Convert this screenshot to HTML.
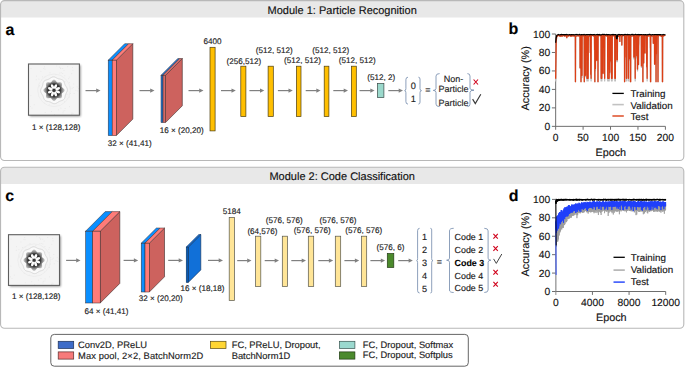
<!DOCTYPE html>
<html><head><meta charset="utf-8"><style>
html,body{margin:0;padding:0;background:#fff;}
body{width:685px;height:367px;overflow:hidden;}
svg{display:block;font-family:"Liberation Sans", sans-serif;text-rendering:geometricPrecision;}
</style></head><body>
<svg width="685" height="367" viewBox="0 0 685 367">
<defs><filter id="soft" x="-20%" y="-20%" width="140%" height="140%"><feGaussianBlur stdDeviation="0.4"/></filter><filter id="shadow" x="-10%" y="-10%" width="120%" height="120%"><feGaussianBlur stdDeviation="0.9"/></filter>
<radialGradient id="fga"><stop offset="0" stop-color="#2a2a2a"/><stop offset="0.55" stop-color="#2e2e2e"/><stop offset="0.63" stop-color="#454545"/><stop offset="0.72" stop-color="#747474"/><stop offset="0.86" stop-color="#a2a2a2"/><stop offset="1" stop-color="#cdcdcd"/></radialGradient>
<radialGradient id="fgc"><stop offset="0" stop-color="#2a2a2a"/><stop offset="0.55" stop-color="#2e2e2e"/><stop offset="0.63" stop-color="#454545"/><stop offset="0.72" stop-color="#747474"/><stop offset="0.86" stop-color="#a2a2a2"/><stop offset="1" stop-color="#cdcdcd"/></radialGradient>
</defs>
<path d="M0.55 4.6 Q0.55 0.6 4.55 0.6 L679.8 0.6 Q683.8 0.6 683.8 4.6 L683.8 17.400000000000002 L0.55 17.400000000000002 Z" fill="#e8e8e8"/>
<rect x="0.55" y="0.6" width="683.25" height="159.9" rx="4" ry="4" fill="none" stroke="#b8b8b8" stroke-width="1.1"/>
<text x="342.2" y="13.6" font-size="11" text-anchor="middle" font-weight="normal" fill="#111" stroke="#111" stroke-width="0.14" >Module 1: Particle Recognition</text>
<path d="M0.55 171.2 Q0.55 167.2 4.55 167.2 L679.8 167.2 Q683.8 167.2 683.8 171.2 L683.8 184.0 L0.55 184.0 Z" fill="#e8e8e8"/>
<rect x="0.55" y="167.2" width="683.25" height="161.10000000000002" rx="4" ry="4" fill="none" stroke="#b8b8b8" stroke-width="1.1"/>
<text x="342.2" y="180.4" font-size="11" text-anchor="middle" font-weight="normal" fill="#111" stroke="#111" stroke-width="0.14" >Module 2: Code Classification</text>
<text x="5.6" y="34.6" font-size="16" text-anchor="start" font-weight="bold" fill="#000" stroke="#000" stroke-width="0.1" >a</text>
<rect x="29.7" y="65.2" width="50.900000000000006" height="51.2" fill="#000" opacity="0.45" filter="url(#shadow)"/>
<rect x="28.5" y="64.0" width="50.900000000000006" height="51.2" fill="#f4f4f4"/>
<rect x="41.1" y="91.8" width="0.8" height="0.8" fill="#e4e4e4"/>
<rect x="47.6" y="94.7" width="0.8" height="0.8" fill="#e4e4e4"/>
<rect x="60.1" y="68.2" width="0.8" height="0.8" fill="#e4e4e4"/>
<rect x="30.1" y="106.2" width="0.8" height="0.8" fill="#e4e4e4"/>
<rect x="42.2" y="76.5" width="0.8" height="0.8" fill="#e4e4e4"/>
<rect x="78.2" y="88.1" width="0.8" height="0.8" fill="#e4e4e4"/>
<rect x="70.4" y="88.4" width="0.8" height="0.8" fill="#e4e4e4"/>
<rect x="60.8" y="72.4" width="0.8" height="0.8" fill="#e4e4e4"/>
<rect x="60.5" y="107.7" width="0.8" height="0.8" fill="#e4e4e4"/>
<rect x="55.1" y="101.5" width="0.8" height="0.8" fill="#e4e4e4"/>
<rect x="62.3" y="68.2" width="0.8" height="0.8" fill="#e4e4e4"/>
<rect x="66.6" y="94.1" width="0.8" height="0.8" fill="#e4e4e4"/>
<rect x="44.2" y="66.5" width="0.8" height="0.8" fill="#e4e4e4"/>
<rect x="71.8" y="88.3" width="0.8" height="0.8" fill="#e4e4e4"/>
<rect x="64.7" y="108.2" width="0.8" height="0.8" fill="#e4e4e4"/>
<rect x="64.4" y="110.3" width="0.8" height="0.8" fill="#e4e4e4"/>
<rect x="48.8" y="104.4" width="0.8" height="0.8" fill="#e4e4e4"/>
<rect x="51.2" y="111.0" width="0.8" height="0.8" fill="#e4e4e4"/>
<rect x="72.5" y="69.8" width="0.8" height="0.8" fill="#e4e4e4"/>
<rect x="36.1" y="75.7" width="0.8" height="0.8" fill="#e4e4e4"/>
<rect x="76.7" y="86.5" width="0.8" height="0.8" fill="#e4e4e4"/>
<rect x="60.1" y="79.8" width="0.8" height="0.8" fill="#e4e4e4"/>
<rect x="54.3" y="84.0" width="0.8" height="0.8" fill="#e4e4e4"/>
<rect x="46.7" y="93.8" width="0.8" height="0.8" fill="#e4e4e4"/>
<rect x="58.1" y="109.5" width="0.8" height="0.8" fill="#e4e4e4"/>
<rect x="62.8" y="110.7" width="0.8" height="0.8" fill="#e4e4e4"/>
<rect x="71.4" y="113.8" width="0.8" height="0.8" fill="#e4e4e4"/>
<rect x="62.3" y="73.0" width="0.8" height="0.8" fill="#e4e4e4"/>
<rect x="71.6" y="112.5" width="0.8" height="0.8" fill="#e4e4e4"/>
<rect x="73.7" y="93.0" width="0.8" height="0.8" fill="#e4e4e4"/>
<rect x="64.4" y="75.4" width="0.8" height="0.8" fill="#e4e4e4"/>
<rect x="70.2" y="93.2" width="0.8" height="0.8" fill="#e4e4e4"/>
<rect x="43.4" y="68.1" width="0.8" height="0.8" fill="#e4e4e4"/>
<rect x="71.3" y="113.7" width="0.8" height="0.8" fill="#e4e4e4"/>
<rect x="33.8" y="104.4" width="0.8" height="0.8" fill="#e4e4e4"/>
<rect x="49.6" y="72.4" width="0.8" height="0.8" fill="#e4e4e4"/>
<rect x="43.9" y="102.8" width="0.8" height="0.8" fill="#e4e4e4"/>
<rect x="72.2" y="67.2" width="0.8" height="0.8" fill="#e4e4e4"/>
<rect x="59.6" y="67.2" width="0.8" height="0.8" fill="#e4e4e4"/>
<rect x="64.6" y="81.3" width="0.8" height="0.8" fill="#e4e4e4"/>
<rect x="72.6" y="113.2" width="0.8" height="0.8" fill="#e4e4e4"/>
<rect x="54.2" y="114.1" width="0.8" height="0.8" fill="#e4e4e4"/>
<rect x="44.6" y="68.8" width="0.8" height="0.8" fill="#e4e4e4"/>
<rect x="58.8" y="66.5" width="0.8" height="0.8" fill="#e4e4e4"/>
<rect x="39.2" y="85.1" width="0.8" height="0.8" fill="#e4e4e4"/>
<rect x="59.4" y="72.7" width="0.8" height="0.8" fill="#e4e4e4"/>
<rect x="31.6" y="107.7" width="0.8" height="0.8" fill="#e4e4e4"/>
<rect x="44.8" y="112.2" width="0.8" height="0.8" fill="#e4e4e4"/>
<rect x="73.3" y="83.6" width="0.8" height="0.8" fill="#e4e4e4"/>
<rect x="52.0" y="90.6" width="0.8" height="0.8" fill="#e4e4e4"/>
<rect x="61.0" y="94.3" width="0.8" height="0.8" fill="#e4e4e4"/>
<rect x="56.8" y="95.5" width="0.8" height="0.8" fill="#e4e4e4"/>
<rect x="75.5" y="89.9" width="0.8" height="0.8" fill="#e4e4e4"/>
<rect x="50.6" y="100.4" width="0.8" height="0.8" fill="#e4e4e4"/>
<rect x="41.1" y="79.8" width="0.8" height="0.8" fill="#e4e4e4"/>
<rect x="77.3" y="90.6" width="0.8" height="0.8" fill="#e4e4e4"/>
<rect x="56.3" y="65.6" width="0.8" height="0.8" fill="#e4e4e4"/>
<rect x="49.8" y="93.5" width="0.8" height="0.8" fill="#e4e4e4"/>
<rect x="30.5" y="95.3" width="0.8" height="0.8" fill="#e4e4e4"/>
<rect x="60.4" y="68.0" width="0.8" height="0.8" fill="#e4e4e4"/>
<rect x="60.2" y="87.9" width="0.8" height="0.8" fill="#e4e4e4"/>
<rect x="62.7" y="82.3" width="0.8" height="0.8" fill="#e4e4e4"/>
<rect x="64.1" y="101.3" width="0.8" height="0.8" fill="#e4e4e4"/>
<rect x="30.6" y="68.0" width="0.8" height="0.8" fill="#e4e4e4"/>
<rect x="62.6" y="112.4" width="0.8" height="0.8" fill="#e4e4e4"/>
<rect x="41.8" y="87.5" width="0.8" height="0.8" fill="#e4e4e4"/>
<rect x="58.5" y="80.7" width="0.8" height="0.8" fill="#e4e4e4"/>
<rect x="47.3" y="80.4" width="0.8" height="0.8" fill="#e4e4e4"/>
<rect x="47.6" y="94.3" width="0.8" height="0.8" fill="#e4e4e4"/>
<rect x="44.2" y="83.6" width="0.8" height="0.8" fill="#e4e4e4"/>
<rect x="67.3" y="66.3" width="0.8" height="0.8" fill="#e4e4e4"/>
<rect x="57.3" y="101.2" width="0.8" height="0.8" fill="#e4e4e4"/>
<rect x="44.7" y="75.9" width="0.8" height="0.8" fill="#e4e4e4"/>
<rect x="68.8" y="76.7" width="0.8" height="0.8" fill="#e4e4e4"/>
<rect x="38.7" y="86.4" width="0.8" height="0.8" fill="#e4e4e4"/>
<rect x="63.6" y="70.0" width="0.8" height="0.8" fill="#e4e4e4"/>
<rect x="45.2" y="81.4" width="0.8" height="0.8" fill="#e4e4e4"/>
<rect x="70.3" y="86.6" width="0.8" height="0.8" fill="#e4e4e4"/>
<rect x="71.3" y="73.3" width="0.8" height="0.8" fill="#e4e4e4"/>
<rect x="46.0" y="97.0" width="0.8" height="0.8" fill="#e4e4e4"/>
<rect x="72.8" y="87.2" width="0.8" height="0.8" fill="#e4e4e4"/>
<rect x="40.5" y="70.9" width="0.8" height="0.8" fill="#e4e4e4"/>
<rect x="55.4" y="74.4" width="0.8" height="0.8" fill="#e4e4e4"/>
<rect x="69.0" y="106.3" width="0.8" height="0.8" fill="#e4e4e4"/>
<rect x="38.5" y="78.7" width="0.8" height="0.8" fill="#e4e4e4"/>
<rect x="69.0" y="96.6" width="0.8" height="0.8" fill="#e4e4e4"/>
<rect x="68.9" y="82.0" width="0.8" height="0.8" fill="#e4e4e4"/>
<rect x="35.8" y="79.4" width="0.8" height="0.8" fill="#e4e4e4"/>
<rect x="68.3" y="78.3" width="0.8" height="0.8" fill="#e4e4e4"/>
<rect x="46.4" y="85.5" width="0.8" height="0.8" fill="#e4e4e4"/>
<rect x="28.5" y="64.0" width="50.900000000000006" height="51.2" fill="none" stroke="#5e5e5e" stroke-width="1.1"/>
<g filter="url(#soft)">
<circle cx="54" cy="90.3" r="16.3" fill="none" stroke="#ebebeb" stroke-width="0.8"/>
<polygon points="67.41,90.30 67.31,90.82 67.14,91.33 66.93,91.83 66.69,92.31 66.44,92.77 66.19,93.23 65.96,93.67 65.76,94.12 65.59,94.58 65.45,95.04 65.34,95.53 65.24,96.03 65.15,96.54 65.04,97.06 64.90,97.59 64.73,98.09 64.50,98.58 64.22,99.03 63.88,99.43 63.48,99.78 63.04,100.08 62.56,100.33 62.06,100.53 61.55,100.70 61.05,100.85 60.55,100.99 60.07,101.14 59.61,101.32 59.17,101.52 58.74,101.75 58.32,102.01 57.90,102.30 57.47,102.60 57.02,102.89 56.56,103.16 56.07,103.40 55.57,103.58 55.05,103.69 54.53,103.74 54.00,103.71 53.48,103.61 52.97,103.44 52.47,103.23 51.99,102.99 51.53,102.74 51.07,102.49 50.63,102.26 50.18,102.06 49.72,101.89 49.26,101.75 48.77,101.64 48.27,101.54 47.76,101.45 47.24,101.34 46.71,101.20 46.21,101.03 45.72,100.80 45.27,100.52 44.87,100.18 44.52,99.78 44.22,99.34 43.97,98.86 43.77,98.36 43.60,97.85 43.45,97.35 43.31,96.85 43.16,96.37 42.98,95.91 42.78,95.47 42.55,95.04 42.29,94.62 42.00,94.20 41.70,93.77 41.41,93.32 41.14,92.86 40.90,92.37 40.72,91.87 40.61,91.35 40.56,90.83 40.59,90.30 40.69,89.78 40.86,89.27 41.07,88.77 41.31,88.29 41.56,87.83 41.81,87.37 42.04,86.93 42.24,86.48 42.41,86.02 42.55,85.56 42.66,85.07 42.76,84.57 42.85,84.06 42.96,83.54 43.10,83.01 43.27,82.51 43.50,82.02 43.78,81.57 44.12,81.17 44.52,80.82 44.96,80.52 45.44,80.27 45.94,80.07 46.45,79.90 46.95,79.75 47.45,79.61 47.93,79.46 48.39,79.28 48.83,79.08 49.26,78.85 49.68,78.59 50.10,78.30 50.53,78.00 50.98,77.71 51.44,77.44 51.93,77.20 52.43,77.02 52.95,76.91 53.47,76.86 54.00,76.89 54.52,76.99 55.03,77.16 55.53,77.37 56.01,77.61 56.47,77.86 56.93,78.11 57.37,78.34 57.82,78.54 58.28,78.71 58.74,78.85 59.23,78.96 59.73,79.06 60.24,79.15 60.76,79.26 61.29,79.40 61.79,79.57 62.28,79.80 62.73,80.08 63.13,80.42 63.48,80.82 63.78,81.26 64.03,81.74 64.23,82.24 64.40,82.75 64.55,83.25 64.69,83.75 64.84,84.23 65.02,84.69 65.22,85.13 65.45,85.56 65.71,85.98 66.00,86.40 66.30,86.83 66.59,87.28 66.86,87.74 67.10,88.23 67.28,88.73 67.39,89.25 67.44,89.77 67.41,90.30" fill="#fafafa" stroke="#d6d6d6" stroke-width="1.0"/>
<polygon points="64.70,90.30 64.64,90.72 64.46,91.12 64.18,91.50 63.82,91.85 63.42,92.17 63.00,92.46 62.62,92.73 62.28,92.99 62.03,93.26 61.85,93.55 61.77,93.88 61.76,94.25 61.81,94.67 61.90,95.14 61.98,95.63 62.04,96.14 62.05,96.64 61.98,97.11 61.82,97.53 61.57,97.87 61.23,98.12 60.81,98.28 60.34,98.35 59.84,98.34 59.33,98.28 58.84,98.20 58.37,98.11 57.95,98.06 57.58,98.07 57.25,98.15 56.96,98.33 56.69,98.58 56.43,98.92 56.16,99.30 55.87,99.72 55.55,100.12 55.20,100.48 54.82,100.76 54.42,100.94 54.00,101.00 53.58,100.94 53.18,100.76 52.80,100.48 52.45,100.12 52.13,99.72 51.84,99.30 51.57,98.92 51.31,98.58 51.04,98.33 50.75,98.15 50.42,98.07 50.05,98.06 49.63,98.11 49.16,98.20 48.67,98.28 48.16,98.34 47.66,98.35 47.19,98.28 46.77,98.12 46.43,97.87 46.18,97.53 46.02,97.11 45.95,96.64 45.96,96.14 46.02,95.63 46.10,95.14 46.19,94.67 46.24,94.25 46.23,93.88 46.15,93.55 45.97,93.26 45.72,92.99 45.38,92.73 45.00,92.46 44.58,92.17 44.18,91.85 43.82,91.50 43.54,91.12 43.36,90.72 43.30,90.30 43.36,89.88 43.54,89.48 43.82,89.10 44.18,88.75 44.58,88.43 45.00,88.14 45.38,87.87 45.72,87.61 45.97,87.34 46.15,87.05 46.23,86.72 46.24,86.35 46.19,85.93 46.10,85.46 46.02,84.97 45.96,84.46 45.95,83.96 46.02,83.49 46.18,83.07 46.43,82.73 46.77,82.48 47.19,82.32 47.66,82.25 48.16,82.26 48.67,82.32 49.16,82.40 49.63,82.49 50.05,82.54 50.42,82.53 50.75,82.45 51.04,82.27 51.31,82.02 51.57,81.68 51.84,81.30 52.13,80.88 52.45,80.48 52.80,80.12 53.18,79.84 53.58,79.66 54.00,79.60 54.42,79.66 54.82,79.84 55.20,80.12 55.55,80.48 55.87,80.88 56.16,81.30 56.43,81.68 56.69,82.02 56.96,82.27 57.25,82.45 57.58,82.53 57.95,82.54 58.37,82.49 58.84,82.40 59.33,82.32 59.84,82.26 60.34,82.25 60.81,82.32 61.23,82.48 61.57,82.73 61.82,83.07 61.98,83.49 62.05,83.96 62.04,84.46 61.98,84.97 61.90,85.46 61.81,85.93 61.76,86.35 61.77,86.72 61.85,87.05 62.03,87.34 62.28,87.61 62.62,87.87 63.00,88.14 63.42,88.43 63.82,88.75 64.18,89.10 64.46,89.48 64.64,89.88 64.70,90.30" fill="url(#fga)"/>
</g>
<ellipse cx="54" cy="86.3" rx="1.35" ry="2.5" fill="#fdfdfd" transform="rotate(22.5 54 90.3)"/>
<ellipse cx="54" cy="86.3" rx="1.35" ry="2.5" fill="#fdfdfd" transform="rotate(67.5 54 90.3)"/>
<ellipse cx="54" cy="86.3" rx="1.35" ry="2.5" fill="#fdfdfd" transform="rotate(112.5 54 90.3)"/>
<ellipse cx="54" cy="86.3" rx="1.35" ry="2.5" fill="#fdfdfd" transform="rotate(157.5 54 90.3)"/>
<ellipse cx="54" cy="86.3" rx="1.35" ry="2.5" fill="#fdfdfd" transform="rotate(202.5 54 90.3)"/>
<ellipse cx="54" cy="86.3" rx="1.35" ry="2.5" fill="#fdfdfd" transform="rotate(247.5 54 90.3)"/>
<ellipse cx="54" cy="86.3" rx="1.35" ry="2.5" fill="#fdfdfd" transform="rotate(292.5 54 90.3)"/>
<ellipse cx="54" cy="86.3" rx="1.35" ry="2.5" fill="#fdfdfd" transform="rotate(337.5 54 90.3)"/>
<circle cx="54" cy="90.3" r="1.1" fill="#3a3a3a"/>
<text x="56.2" y="130.0" font-size="8.1" text-anchor="middle" font-weight="normal" fill="#222" stroke="#222" stroke-width="0.14" >1 × (128,128)</text>
<line x1="85.5" y1="90.6" x2="96.7" y2="90.6" stroke="#808080" stroke-width="1.2"/>
<path d="M96.2 88.5 L100.5 90.6 L96.2 92.69999999999999 Z" fill="#808080"/>
<path d="M116.3 60.2 L132.8 43.7 L132.8 119.1 L116.3 135.6 Z" fill="#cd625e" stroke="#3a2a2a" stroke-width="0.6" stroke-linejoin="round"/>
<path d="M108.2 60.2 L124.7 43.7 L128.7 43.7 L112.2 60.2 Z" fill="#0a8fff" stroke="#3a2a2a" stroke-width="0.5" stroke-linejoin="round"/>
<path d="M112.2 60.2 L128.7 43.7 L132.8 43.7 L116.3 60.2 Z" fill="#ff7b78" stroke="#3a2a2a" stroke-width="0.5" stroke-linejoin="round"/>
<rect x="108.2" y="60.2" width="4.0" height="75.39999999999999" fill="#0a8fff" stroke="#3a2a2a" stroke-width="0.5"/>
<rect x="112.2" y="60.2" width="4.099999999999994" height="75.39999999999999" fill="#ff7b78" stroke="#3a2a2a" stroke-width="0.5"/>
<text x="107.8" y="146.2" font-size="8.1" text-anchor="start" font-weight="normal" fill="#222" stroke="#222" stroke-width="0.14" >32 × (41,41)</text>
<line x1="139.5" y1="90.6" x2="150.7" y2="90.6" stroke="#808080" stroke-width="1.2"/>
<path d="M150.2 88.5 L154.5 90.6 L150.2 92.69999999999999 Z" fill="#808080"/>
<path d="M165.5 75.3 L182.3 58.5 L182.3 105.8 L165.5 122.6 Z" fill="#cd625e" stroke="#3a2a2a" stroke-width="0.6" stroke-linejoin="round"/>
<path d="M161 75.3 L177.8 58.5 L179.8 58.5 L163.0 75.3 Z" fill="#1e78d8" stroke="#3a2a2a" stroke-width="0.5" stroke-linejoin="round"/>
<path d="M163.0 75.3 L179.8 58.5 L182.3 58.5 L165.5 75.3 Z" fill="#e07070" stroke="#3a2a2a" stroke-width="0.5" stroke-linejoin="round"/>
<rect x="161" y="75.3" width="2.0" height="47.3" fill="#1e78d8" stroke="#3a2a2a" stroke-width="0.5"/>
<rect x="163.0" y="75.3" width="2.5" height="47.3" fill="#d46a66" stroke="#3a2a2a" stroke-width="0.5"/>
<text x="159.8" y="132.8" font-size="8.1" text-anchor="start" font-weight="normal" fill="#222" stroke="#222" stroke-width="0.14" >16 × (20,20)</text>
<line x1="188.5" y1="90.6" x2="199.7" y2="90.6" stroke="#808080" stroke-width="1.2"/>
<path d="M199.2 88.5 L203.5 90.6 L199.2 92.69999999999999 Z" fill="#808080"/>
<rect x="210" y="47.3" width="5.099999999999994" height="83.60000000000001" fill="#ffbf00" stroke="#4a3c10" stroke-width="0.7"/>
<text x="212.6" y="44.3" font-size="8.1" text-anchor="middle" font-weight="normal" fill="#222" stroke="#222" stroke-width="0.14" >6400</text>
<line x1="221" y1="90.6" x2="232.0" y2="90.6" stroke="#808080" stroke-width="1.2"/>
<path d="M231.5 88.5 L235.8 90.6 L231.5 92.69999999999999 Z" fill="#808080"/>
<rect x="240.8" y="66.2" width="5.099999999999994" height="50.3" fill="#ffbf00" stroke="#4a3c10" stroke-width="0.7"/>
<line x1="249.4" y1="90.6" x2="260.5" y2="90.6" stroke="#808080" stroke-width="1.2"/>
<path d="M260.0 88.5 L264.3 90.6 L260.0 92.69999999999999 Z" fill="#808080"/>
<rect x="268.1" y="66.2" width="5.199999999999989" height="50.3" fill="#ffbf00" stroke="#4a3c10" stroke-width="0.7"/>
<line x1="277.9" y1="90.6" x2="289.0" y2="90.6" stroke="#808080" stroke-width="1.2"/>
<path d="M288.5 88.5 L292.8 90.6 L288.5 92.69999999999999 Z" fill="#808080"/>
<rect x="296.4" y="66.2" width="4.600000000000023" height="50.3" fill="#ffbf00" stroke="#4a3c10" stroke-width="0.7"/>
<line x1="305.7" y1="90.6" x2="316.8" y2="90.6" stroke="#808080" stroke-width="1.2"/>
<path d="M316.3 88.5 L320.6 90.6 L316.3 92.69999999999999 Z" fill="#808080"/>
<rect x="324.2" y="66.2" width="4.699999999999989" height="50.3" fill="#ffbf00" stroke="#4a3c10" stroke-width="0.7"/>
<line x1="333.3" y1="90.6" x2="344.2" y2="90.6" stroke="#808080" stroke-width="1.2"/>
<path d="M343.7 88.5 L348 90.6 L343.7 92.69999999999999 Z" fill="#808080"/>
<rect x="351.4" y="66.2" width="4.900000000000034" height="50.3" fill="#ffbf00" stroke="#4a3c10" stroke-width="0.7"/>
<text x="226.6" y="63.5" font-size="8.1" text-anchor="start" font-weight="normal" fill="#222" stroke="#222" stroke-width="0.14" >(256,512)</text>
<text x="255.8" y="53.1" font-size="8.1" text-anchor="start" font-weight="normal" fill="#222" stroke="#222" stroke-width="0.14" >(512, 512)</text>
<text x="284.1" y="63.3" font-size="8.1" text-anchor="start" font-weight="normal" fill="#222" stroke="#222" stroke-width="0.14" >(512, 512)</text>
<text x="312.2" y="53.1" font-size="8.1" text-anchor="start" font-weight="normal" fill="#222" stroke="#222" stroke-width="0.14" >(512, 512)</text>
<text x="338.8" y="63.3" font-size="8.1" text-anchor="start" font-weight="normal" fill="#222" stroke="#222" stroke-width="0.14" >(512, 512)</text>
<line x1="359.5" y1="90.6" x2="370.8" y2="90.6" stroke="#808080" stroke-width="1.2"/>
<path d="M370.3 88.5 L374.6 90.6 L370.3 92.69999999999999 Z" fill="#808080"/>
<rect x="377.4" y="83.4" width="6.5" height="14.2" fill="#9bd9cc" stroke="#3a4a48" stroke-width="0.7"/>
<text x="367.2" y="80.4" font-size="8.1" text-anchor="start" font-weight="normal" fill="#222" stroke="#222" stroke-width="0.14" >(512, 2)</text>
<line x1="388.3" y1="90.6" x2="399.2" y2="90.6" stroke="#808080" stroke-width="1.2"/>
<path d="M398.7 88.5 L403 90.6 L398.7 92.69999999999999 Z" fill="#808080"/>
<path d="M408.0 77.2 Q405.9 77.2 405.9 79.7 L405.9 88.65 Q405.9 90.65 404.6 90.65 Q405.9 90.65 405.9 92.65 L405.9 101.6 Q405.9 104.1 408.0 104.1" fill="none" stroke="#7088aa" stroke-width="0.8"/>
<path d="M418.4 77.2 Q420.0 77.2 420.0 79.12000000000003 L420.0 88.65 Q420.0 90.65 421.5 90.65 Q420.0 90.65 420.0 92.65 L420.0 102.17999999999996 Q420.0 104.1 418.4 104.1" fill="none" stroke="#7088aa" stroke-width="0.8"/>
<text x="413.3" y="88.7" font-size="9.2" text-anchor="middle" font-weight="normal" fill="#222" stroke="#222" stroke-width="0.14" >0</text>
<text x="413.3" y="102.0" font-size="9.2" text-anchor="middle" font-weight="normal" fill="#222" stroke="#222" stroke-width="0.14" >1</text>
<text x="427.8" y="93.2" font-size="9" text-anchor="middle" font-weight="normal" fill="#222" stroke="#222" stroke-width="0.14" >=</text>
<path d="M439.6 73.6 Q436.0 73.6 436.0 76.1 L436.0 88.4 Q436.0 90.4 433.3 90.4 Q436.0 90.4 436.0 92.4 L436.0 104.1 Q436.0 106.6 439.6 106.6" fill="none" stroke="#7088aa" stroke-width="0.8"/>
<path d="M467.4 73.6 Q470.0 73.6 470.0 76.1 L470.0 88.2 Q470.0 90.2 474.0 90.2 Q470.0 90.2 470.0 92.2 L470.0 104.1 Q470.0 106.6 467.4 106.6" fill="none" stroke="#7088aa" stroke-width="0.8"/>
<text x="453.6" y="81.8" font-size="9" text-anchor="middle" font-weight="normal" fill="#222" stroke="#222" stroke-width="0.14" >Non-</text>
<text x="453.6" y="91.8" font-size="9" text-anchor="middle" font-weight="normal" fill="#222" stroke="#222" stroke-width="0.14" >Particle</text>
<text x="453.6" y="105.6" font-size="9" text-anchor="middle" font-weight="normal" fill="#222" stroke="#222" stroke-width="0.14" >Particle</text>
<path d="M473.6 79.5 L478.0 84.5 M478.0 79.5 L473.6 84.5" stroke="#d0021b" stroke-width="1.1" fill="none"/>
<path d="M472.6 99.10000000000001 L475.3 103.60000000000001 L480.8 94.2" stroke="#3a3a3a" stroke-width="1.15" fill="none"/>
<text x="5.2" y="201.0" font-size="16" text-anchor="start" font-weight="bold" fill="#000" stroke="#000" stroke-width="0.1" >c</text>
<rect x="9.7" y="235.89999999999998" width="51.0" height="50.69999999999999" fill="#000" opacity="0.45" filter="url(#shadow)"/>
<rect x="8.5" y="234.7" width="51.0" height="50.69999999999999" fill="#f4f4f4"/>
<rect x="21.2" y="262.2" width="0.8" height="0.8" fill="#e4e4e4"/>
<rect x="27.6" y="265.1" width="0.8" height="0.8" fill="#e4e4e4"/>
<rect x="40.2" y="238.9" width="0.8" height="0.8" fill="#e4e4e4"/>
<rect x="10.1" y="276.5" width="0.8" height="0.8" fill="#e4e4e4"/>
<rect x="22.2" y="247.1" width="0.8" height="0.8" fill="#e4e4e4"/>
<rect x="58.3" y="258.6" width="0.8" height="0.8" fill="#e4e4e4"/>
<rect x="50.5" y="258.9" width="0.8" height="0.8" fill="#e4e4e4"/>
<rect x="40.8" y="243.0" width="0.8" height="0.8" fill="#e4e4e4"/>
<rect x="40.6" y="278.0" width="0.8" height="0.8" fill="#e4e4e4"/>
<rect x="35.1" y="271.8" width="0.8" height="0.8" fill="#e4e4e4"/>
<rect x="42.4" y="238.8" width="0.8" height="0.8" fill="#e4e4e4"/>
<rect x="46.7" y="264.5" width="0.8" height="0.8" fill="#e4e4e4"/>
<rect x="24.3" y="237.2" width="0.8" height="0.8" fill="#e4e4e4"/>
<rect x="51.9" y="258.7" width="0.8" height="0.8" fill="#e4e4e4"/>
<rect x="44.7" y="278.5" width="0.8" height="0.8" fill="#e4e4e4"/>
<rect x="44.5" y="280.6" width="0.8" height="0.8" fill="#e4e4e4"/>
<rect x="28.9" y="274.7" width="0.8" height="0.8" fill="#e4e4e4"/>
<rect x="31.3" y="281.3" width="0.8" height="0.8" fill="#e4e4e4"/>
<rect x="52.6" y="240.4" width="0.8" height="0.8" fill="#e4e4e4"/>
<rect x="16.2" y="246.3" width="0.8" height="0.8" fill="#e4e4e4"/>
<rect x="56.8" y="256.9" width="0.8" height="0.8" fill="#e4e4e4"/>
<rect x="40.2" y="250.4" width="0.8" height="0.8" fill="#e4e4e4"/>
<rect x="34.4" y="254.5" width="0.8" height="0.8" fill="#e4e4e4"/>
<rect x="26.7" y="264.2" width="0.8" height="0.8" fill="#e4e4e4"/>
<rect x="38.1" y="279.7" width="0.8" height="0.8" fill="#e4e4e4"/>
<rect x="42.9" y="280.9" width="0.8" height="0.8" fill="#e4e4e4"/>
<rect x="51.5" y="284.0" width="0.8" height="0.8" fill="#e4e4e4"/>
<rect x="42.4" y="243.6" width="0.8" height="0.8" fill="#e4e4e4"/>
<rect x="51.7" y="282.7" width="0.8" height="0.8" fill="#e4e4e4"/>
<rect x="53.8" y="263.4" width="0.8" height="0.8" fill="#e4e4e4"/>
<rect x="44.5" y="246.0" width="0.8" height="0.8" fill="#e4e4e4"/>
<rect x="50.2" y="263.6" width="0.8" height="0.8" fill="#e4e4e4"/>
<rect x="23.5" y="238.8" width="0.8" height="0.8" fill="#e4e4e4"/>
<rect x="51.3" y="283.9" width="0.8" height="0.8" fill="#e4e4e4"/>
<rect x="13.8" y="274.7" width="0.8" height="0.8" fill="#e4e4e4"/>
<rect x="29.6" y="243.0" width="0.8" height="0.8" fill="#e4e4e4"/>
<rect x="23.9" y="273.1" width="0.8" height="0.8" fill="#e4e4e4"/>
<rect x="52.3" y="237.9" width="0.8" height="0.8" fill="#e4e4e4"/>
<rect x="39.6" y="237.9" width="0.8" height="0.8" fill="#e4e4e4"/>
<rect x="44.7" y="251.8" width="0.8" height="0.8" fill="#e4e4e4"/>
<rect x="52.7" y="283.5" width="0.8" height="0.8" fill="#e4e4e4"/>
<rect x="34.3" y="284.3" width="0.8" height="0.8" fill="#e4e4e4"/>
<rect x="24.7" y="239.4" width="0.8" height="0.8" fill="#e4e4e4"/>
<rect x="38.9" y="237.2" width="0.8" height="0.8" fill="#e4e4e4"/>
<rect x="19.2" y="255.6" width="0.8" height="0.8" fill="#e4e4e4"/>
<rect x="39.4" y="243.3" width="0.8" height="0.8" fill="#e4e4e4"/>
<rect x="11.6" y="278.0" width="0.8" height="0.8" fill="#e4e4e4"/>
<rect x="24.9" y="282.4" width="0.8" height="0.8" fill="#e4e4e4"/>
<rect x="53.4" y="254.1" width="0.8" height="0.8" fill="#e4e4e4"/>
<rect x="32.1" y="261.0" width="0.8" height="0.8" fill="#e4e4e4"/>
<rect x="41.1" y="264.7" width="0.8" height="0.8" fill="#e4e4e4"/>
<rect x="36.9" y="265.9" width="0.8" height="0.8" fill="#e4e4e4"/>
<rect x="55.6" y="260.4" width="0.8" height="0.8" fill="#e4e4e4"/>
<rect x="30.6" y="270.8" width="0.8" height="0.8" fill="#e4e4e4"/>
<rect x="21.1" y="250.4" width="0.8" height="0.8" fill="#e4e4e4"/>
<rect x="57.4" y="261.1" width="0.8" height="0.8" fill="#e4e4e4"/>
<rect x="36.4" y="236.3" width="0.8" height="0.8" fill="#e4e4e4"/>
<rect x="29.8" y="263.9" width="0.8" height="0.8" fill="#e4e4e4"/>
<rect x="10.5" y="265.7" width="0.8" height="0.8" fill="#e4e4e4"/>
<rect x="40.5" y="238.6" width="0.8" height="0.8" fill="#e4e4e4"/>
<rect x="40.2" y="258.4" width="0.8" height="0.8" fill="#e4e4e4"/>
<rect x="42.8" y="252.9" width="0.8" height="0.8" fill="#e4e4e4"/>
<rect x="44.1" y="271.6" width="0.8" height="0.8" fill="#e4e4e4"/>
<rect x="10.6" y="238.7" width="0.8" height="0.8" fill="#e4e4e4"/>
<rect x="42.6" y="282.6" width="0.8" height="0.8" fill="#e4e4e4"/>
<rect x="21.8" y="257.9" width="0.8" height="0.8" fill="#e4e4e4"/>
<rect x="38.5" y="251.3" width="0.8" height="0.8" fill="#e4e4e4"/>
<rect x="27.3" y="250.9" width="0.8" height="0.8" fill="#e4e4e4"/>
<rect x="27.6" y="264.7" width="0.8" height="0.8" fill="#e4e4e4"/>
<rect x="24.2" y="254.1" width="0.8" height="0.8" fill="#e4e4e4"/>
<rect x="47.3" y="237.0" width="0.8" height="0.8" fill="#e4e4e4"/>
<rect x="37.4" y="271.5" width="0.8" height="0.8" fill="#e4e4e4"/>
<rect x="24.7" y="246.5" width="0.8" height="0.8" fill="#e4e4e4"/>
<rect x="48.9" y="247.3" width="0.8" height="0.8" fill="#e4e4e4"/>
<rect x="18.7" y="256.9" width="0.8" height="0.8" fill="#e4e4e4"/>
<rect x="43.7" y="240.7" width="0.8" height="0.8" fill="#e4e4e4"/>
<rect x="25.3" y="252.0" width="0.8" height="0.8" fill="#e4e4e4"/>
<rect x="50.3" y="257.1" width="0.8" height="0.8" fill="#e4e4e4"/>
<rect x="51.4" y="243.9" width="0.8" height="0.8" fill="#e4e4e4"/>
<rect x="26.0" y="267.4" width="0.8" height="0.8" fill="#e4e4e4"/>
<rect x="52.9" y="257.7" width="0.8" height="0.8" fill="#e4e4e4"/>
<rect x="20.5" y="241.6" width="0.8" height="0.8" fill="#e4e4e4"/>
<rect x="35.5" y="245.0" width="0.8" height="0.8" fill="#e4e4e4"/>
<rect x="49.0" y="276.5" width="0.8" height="0.8" fill="#e4e4e4"/>
<rect x="18.5" y="249.3" width="0.8" height="0.8" fill="#e4e4e4"/>
<rect x="49.1" y="267.0" width="0.8" height="0.8" fill="#e4e4e4"/>
<rect x="49.0" y="252.5" width="0.8" height="0.8" fill="#e4e4e4"/>
<rect x="15.9" y="249.9" width="0.8" height="0.8" fill="#e4e4e4"/>
<rect x="48.4" y="248.9" width="0.8" height="0.8" fill="#e4e4e4"/>
<rect x="26.5" y="256.0" width="0.8" height="0.8" fill="#e4e4e4"/>
<rect x="8.5" y="234.7" width="51.0" height="50.69999999999999" fill="none" stroke="#5e5e5e" stroke-width="1.1"/>
<g filter="url(#soft)">
<circle cx="34.1" cy="260.2" r="16.3" fill="none" stroke="#ebebeb" stroke-width="0.8"/>
<polygon points="47.51,260.20 47.41,260.72 47.24,261.23 47.03,261.73 46.79,262.21 46.54,262.67 46.29,263.13 46.06,263.57 45.86,264.02 45.69,264.48 45.55,264.94 45.44,265.43 45.34,265.93 45.25,266.44 45.14,266.96 45.00,267.49 44.83,267.99 44.60,268.48 44.32,268.93 43.98,269.33 43.58,269.68 43.14,269.98 42.66,270.23 42.16,270.43 41.65,270.60 41.15,270.75 40.65,270.89 40.17,271.04 39.71,271.22 39.27,271.42 38.84,271.65 38.42,271.91 38.00,272.20 37.57,272.50 37.12,272.79 36.66,273.06 36.17,273.30 35.67,273.48 35.15,273.59 34.63,273.64 34.10,273.61 33.58,273.51 33.07,273.34 32.57,273.13 32.09,272.89 31.63,272.64 31.17,272.39 30.73,272.16 30.28,271.96 29.82,271.79 29.36,271.65 28.87,271.54 28.37,271.44 27.86,271.35 27.34,271.24 26.81,271.10 26.31,270.93 25.82,270.70 25.37,270.42 24.97,270.08 24.62,269.68 24.32,269.24 24.07,268.76 23.87,268.26 23.70,267.75 23.55,267.25 23.41,266.75 23.26,266.27 23.08,265.81 22.88,265.37 22.65,264.94 22.39,264.52 22.10,264.10 21.80,263.67 21.51,263.22 21.24,262.76 21.00,262.27 20.82,261.77 20.71,261.25 20.66,260.73 20.69,260.20 20.79,259.68 20.96,259.17 21.17,258.67 21.41,258.19 21.66,257.73 21.91,257.27 22.14,256.83 22.34,256.38 22.51,255.92 22.65,255.46 22.76,254.97 22.86,254.47 22.95,253.96 23.06,253.44 23.20,252.91 23.37,252.41 23.60,251.92 23.88,251.47 24.22,251.07 24.62,250.72 25.06,250.42 25.54,250.17 26.04,249.97 26.55,249.80 27.05,249.65 27.55,249.51 28.03,249.36 28.49,249.18 28.93,248.98 29.36,248.75 29.78,248.49 30.20,248.20 30.63,247.90 31.08,247.61 31.54,247.34 32.03,247.10 32.53,246.92 33.05,246.81 33.57,246.76 34.10,246.79 34.62,246.89 35.13,247.06 35.63,247.27 36.11,247.51 36.57,247.76 37.03,248.01 37.47,248.24 37.92,248.44 38.38,248.61 38.84,248.75 39.33,248.86 39.83,248.96 40.34,249.05 40.86,249.16 41.39,249.30 41.89,249.47 42.38,249.70 42.83,249.98 43.23,250.32 43.58,250.72 43.88,251.16 44.13,251.64 44.33,252.14 44.50,252.65 44.65,253.15 44.79,253.65 44.94,254.13 45.12,254.59 45.32,255.03 45.55,255.46 45.81,255.88 46.10,256.30 46.40,256.73 46.69,257.18 46.96,257.64 47.20,258.13 47.38,258.63 47.49,259.15 47.54,259.67 47.51,260.20" fill="#fafafa" stroke="#d6d6d6" stroke-width="1.0"/>
<polygon points="44.80,260.20 44.74,260.62 44.56,261.02 44.28,261.40 43.92,261.75 43.52,262.07 43.10,262.36 42.72,262.63 42.38,262.89 42.13,263.16 41.95,263.45 41.87,263.78 41.86,264.15 41.91,264.57 42.00,265.04 42.08,265.53 42.14,266.04 42.15,266.54 42.08,267.01 41.92,267.43 41.67,267.77 41.33,268.02 40.91,268.18 40.44,268.25 39.94,268.24 39.43,268.18 38.94,268.10 38.47,268.01 38.05,267.96 37.68,267.97 37.35,268.05 37.06,268.23 36.79,268.48 36.53,268.82 36.26,269.20 35.97,269.62 35.65,270.02 35.30,270.38 34.92,270.66 34.52,270.84 34.10,270.90 33.68,270.84 33.28,270.66 32.90,270.38 32.55,270.02 32.23,269.62 31.94,269.20 31.67,268.82 31.41,268.48 31.14,268.23 30.85,268.05 30.52,267.97 30.15,267.96 29.73,268.01 29.26,268.10 28.77,268.18 28.26,268.24 27.76,268.25 27.29,268.18 26.87,268.02 26.53,267.77 26.28,267.43 26.12,267.01 26.05,266.54 26.06,266.04 26.12,265.53 26.20,265.04 26.29,264.57 26.34,264.15 26.33,263.78 26.25,263.45 26.07,263.16 25.82,262.89 25.48,262.63 25.10,262.36 24.68,262.07 24.28,261.75 23.92,261.40 23.64,261.02 23.46,260.62 23.40,260.20 23.46,259.78 23.64,259.38 23.92,259.00 24.28,258.65 24.68,258.33 25.10,258.04 25.48,257.77 25.82,257.51 26.07,257.24 26.25,256.95 26.33,256.62 26.34,256.25 26.29,255.83 26.20,255.36 26.12,254.87 26.06,254.36 26.05,253.86 26.12,253.39 26.28,252.97 26.53,252.63 26.87,252.38 27.29,252.22 27.76,252.15 28.26,252.16 28.77,252.22 29.26,252.30 29.73,252.39 30.15,252.44 30.52,252.43 30.85,252.35 31.14,252.17 31.41,251.92 31.67,251.58 31.94,251.20 32.23,250.78 32.55,250.38 32.90,250.02 33.28,249.74 33.68,249.56 34.10,249.50 34.52,249.56 34.92,249.74 35.30,250.02 35.65,250.38 35.97,250.78 36.26,251.20 36.53,251.58 36.79,251.92 37.06,252.17 37.35,252.35 37.68,252.43 38.05,252.44 38.47,252.39 38.94,252.30 39.43,252.22 39.94,252.16 40.44,252.15 40.91,252.22 41.33,252.38 41.67,252.63 41.92,252.97 42.08,253.39 42.15,253.86 42.14,254.36 42.08,254.87 42.00,255.36 41.91,255.83 41.86,256.25 41.87,256.62 41.95,256.95 42.13,257.24 42.38,257.51 42.72,257.77 43.10,258.04 43.52,258.33 43.92,258.65 44.28,259.00 44.56,259.38 44.74,259.78 44.80,260.20" fill="url(#fgc)"/>
</g>
<ellipse cx="34.1" cy="256.2" rx="1.35" ry="2.5" fill="#fdfdfd" transform="rotate(22.5 34.1 260.2)"/>
<ellipse cx="34.1" cy="256.2" rx="1.35" ry="2.5" fill="#fdfdfd" transform="rotate(67.5 34.1 260.2)"/>
<ellipse cx="34.1" cy="256.2" rx="1.35" ry="2.5" fill="#fdfdfd" transform="rotate(112.5 34.1 260.2)"/>
<ellipse cx="34.1" cy="256.2" rx="1.35" ry="2.5" fill="#fdfdfd" transform="rotate(157.5 34.1 260.2)"/>
<ellipse cx="34.1" cy="256.2" rx="1.35" ry="2.5" fill="#fdfdfd" transform="rotate(202.5 34.1 260.2)"/>
<ellipse cx="34.1" cy="256.2" rx="1.35" ry="2.5" fill="#fdfdfd" transform="rotate(247.5 34.1 260.2)"/>
<ellipse cx="34.1" cy="256.2" rx="1.35" ry="2.5" fill="#fdfdfd" transform="rotate(292.5 34.1 260.2)"/>
<ellipse cx="34.1" cy="256.2" rx="1.35" ry="2.5" fill="#fdfdfd" transform="rotate(337.5 34.1 260.2)"/>
<circle cx="34.1" cy="260.2" r="1.1" fill="#3a3a3a"/>
<text x="36.2" y="299.2" font-size="8.1" text-anchor="middle" font-weight="normal" fill="#222" stroke="#222" stroke-width="0.14" >1 × (128,128)</text>
<line x1="66.1" y1="260.4" x2="76.7" y2="260.4" stroke="#808080" stroke-width="1.2"/>
<path d="M76.2 258.29999999999995 L80.5 260.4 L76.2 262.5 Z" fill="#808080"/>
<path d="M100.19999999999999 231.2 L119.79999999999998 211.6 L119.79999999999998 283.4 L100.19999999999999 303.0 Z" fill="#cd625e" stroke="#3a2a2a" stroke-width="0.6" stroke-linejoin="round"/>
<path d="M85.6 231.2 L105.19999999999999 211.6 L112.29999999999998 211.6 L92.69999999999999 231.2 Z" fill="#0a8fff" stroke="#3a2a2a" stroke-width="0.5" stroke-linejoin="round"/>
<path d="M92.69999999999999 231.2 L112.29999999999998 211.6 L119.79999999999998 211.6 L100.19999999999999 231.2 Z" fill="#ff7b78" stroke="#3a2a2a" stroke-width="0.5" stroke-linejoin="round"/>
<rect x="85.6" y="231.2" width="7.099999999999994" height="71.80000000000001" fill="#0a8fff" stroke="#3a2a2a" stroke-width="0.5"/>
<rect x="92.69999999999999" y="231.2" width="7.5" height="71.80000000000001" fill="#ff7b78" stroke="#3a2a2a" stroke-width="0.5"/>
<text x="84.5" y="314.4" font-size="8.1" text-anchor="start" font-weight="normal" fill="#222" stroke="#222" stroke-width="0.14" >64 × (41,41)</text>
<line x1="123.6" y1="260.4" x2="134.39999999999998" y2="260.4" stroke="#808080" stroke-width="1.2"/>
<path d="M133.89999999999998 258.29999999999995 L138.2 260.4 L133.89999999999998 262.5 Z" fill="#808080"/>
<path d="M149.3 243.2 L164.5 228.0 L164.5 276.8 L149.3 292.0 Z" fill="#cd625e" stroke="#3a2a2a" stroke-width="0.6" stroke-linejoin="round"/>
<path d="M141.2 243.2 L156.39999999999998 228.0 L160.2 228.0 L145.0 243.2 Z" fill="#0a8fff" stroke="#3a2a2a" stroke-width="0.5" stroke-linejoin="round"/>
<path d="M145.0 243.2 L160.2 228.0 L164.5 228.0 L149.3 243.2 Z" fill="#ff7b78" stroke="#3a2a2a" stroke-width="0.5" stroke-linejoin="round"/>
<rect x="141.2" y="243.2" width="3.8000000000000114" height="48.80000000000001" fill="#0a8fff" stroke="#3a2a2a" stroke-width="0.5"/>
<rect x="145.0" y="243.2" width="4.300000000000011" height="48.80000000000001" fill="#ff7b78" stroke="#3a2a2a" stroke-width="0.5"/>
<text x="138.8" y="300.8" font-size="8.1" text-anchor="start" font-weight="normal" fill="#222" stroke="#222" stroke-width="0.14" >32 × (20,20)</text>
<line x1="168.2" y1="260.4" x2="179.2" y2="260.4" stroke="#808080" stroke-width="1.2"/>
<path d="M178.7 258.29999999999995 L183 260.4 L178.7 262.5 Z" fill="#808080"/>
<path d="M188.2 247.1 L200.79999999999998 234.5 L200.79999999999998 269.9 L188.2 282.5 Z" fill="#1170d8" stroke="#0a2a50" stroke-width="0.6" stroke-linejoin="round"/>
<path d="M186.2 247.1 L198.79999999999998 234.5 L200.79999999999998 234.5 L188.2 247.1 Z" fill="#1a6fd0" stroke="#0a2a50" stroke-width="0.5" stroke-linejoin="round"/>
<rect x="186.2" y="247.1" width="2.0" height="35.400000000000006" fill="#0b5cb5" stroke="#0a2a50" stroke-width="0.5"/>
<text x="180.6" y="291.4" font-size="8.1" text-anchor="start" font-weight="normal" fill="#222" stroke="#222" stroke-width="0.14" >16 × (18,18)</text>
<line x1="208" y1="260.4" x2="219.2" y2="260.4" stroke="#808080" stroke-width="1.2"/>
<path d="M218.7 258.29999999999995 L223 260.4 L218.7 262.5 Z" fill="#808080"/>
<rect x="229.2" y="217.4" width="5.300000000000011" height="83.1" fill="#ffe597" stroke="#55544a" stroke-width="0.7"/>
<text x="231.8" y="214.4" font-size="8.1" text-anchor="middle" font-weight="normal" fill="#222" stroke="#222" stroke-width="0.14" >5184</text>
<line x1="237.2" y1="260.6" x2="247.7" y2="260.6" stroke="#808080" stroke-width="1.2"/>
<path d="M247.2 258.5 L251.5 260.6 L247.2 262.70000000000005 Z" fill="#808080"/>
<rect x="255.6" y="236.2" width="5.200000000000017" height="50.30000000000001" fill="#ffe597" stroke="#55544a" stroke-width="0.7"/>
<line x1="264.7" y1="260.6" x2="275.2" y2="260.6" stroke="#808080" stroke-width="1.2"/>
<path d="M274.7 258.5 L279 260.6 L274.7 262.70000000000005 Z" fill="#808080"/>
<rect x="282.3" y="236.2" width="5.199999999999989" height="50.30000000000001" fill="#ffe597" stroke="#55544a" stroke-width="0.7"/>
<line x1="291.3" y1="260.6" x2="302.2" y2="260.6" stroke="#808080" stroke-width="1.2"/>
<path d="M301.7 258.5 L306 260.6 L301.7 262.70000000000005 Z" fill="#808080"/>
<rect x="308.3" y="236.2" width="5.399999999999977" height="50.30000000000001" fill="#ffe597" stroke="#55544a" stroke-width="0.7"/>
<line x1="318.3" y1="260.6" x2="329.4" y2="260.6" stroke="#808080" stroke-width="1.2"/>
<path d="M328.9 258.5 L333.2 260.6 L328.9 262.70000000000005 Z" fill="#808080"/>
<rect x="335.3" y="236.2" width="5.399999999999977" height="50.30000000000001" fill="#ffe597" stroke="#55544a" stroke-width="0.7"/>
<line x1="344.4" y1="260.6" x2="355.4" y2="260.6" stroke="#808080" stroke-width="1.2"/>
<path d="M354.9 258.5 L359.2 260.6 L354.9 262.70000000000005 Z" fill="#808080"/>
<rect x="361.6" y="236.2" width="5.099999999999966" height="50.30000000000001" fill="#ffe597" stroke="#55544a" stroke-width="0.7"/>
<text x="247.4" y="233.5" font-size="8.1" text-anchor="start" font-weight="normal" fill="#222" stroke="#222" stroke-width="0.14" >(64,576)</text>
<text x="265.7" y="223.1" font-size="8.1" text-anchor="start" font-weight="normal" fill="#222" stroke="#222" stroke-width="0.14" >(576, 576)</text>
<text x="293.8" y="233.2" font-size="8.1" text-anchor="start" font-weight="normal" fill="#222" stroke="#222" stroke-width="0.14" >(576, 576)</text>
<text x="319.5" y="223.0" font-size="8.1" text-anchor="start" font-weight="normal" fill="#222" stroke="#222" stroke-width="0.14" >(576, 576)</text>
<text x="345.2" y="232.9" font-size="8.1" text-anchor="start" font-weight="normal" fill="#222" stroke="#222" stroke-width="0.14" >(576, 576)</text>
<line x1="370.4" y1="260.6" x2="381.3" y2="260.6" stroke="#808080" stroke-width="1.2"/>
<path d="M380.8 258.5 L385.1 260.6 L380.8 262.70000000000005 Z" fill="#808080"/>
<rect x="387.3" y="253.5" width="6.5" height="14" fill="#4b8a2c" stroke="#263d18" stroke-width="0.7"/>
<text x="376.6" y="249.7" font-size="8.1" text-anchor="start" font-weight="normal" fill="#222" stroke="#222" stroke-width="0.14" >(576, 6)</text>
<line x1="398.2" y1="260.6" x2="409.09999999999997" y2="260.6" stroke="#808080" stroke-width="1.2"/>
<path d="M408.59999999999997 258.5 L412.9 260.6 L408.59999999999997 262.70000000000005 Z" fill="#808080"/>
<path d="M419.6 228.3 Q417.6 228.3 417.6 230.70000000000002 L417.6 258.65 Q417.6 260.65 416.6 260.65 Q417.6 260.65 417.6 262.65 L417.6 290.6 Q417.6 293.0 419.6 293.0" fill="none" stroke="#7088aa" stroke-width="0.8"/>
<path d="M430.4 228.3 Q431.7 228.3 431.7 229.86 L431.7 258.65 Q431.7 260.65 432.8 260.65 Q431.7 260.65 431.7 262.65 L431.7 291.44 Q431.7 293.0 430.4 293.0" fill="none" stroke="#7088aa" stroke-width="0.8"/>
<text x="424.5" y="239.5" font-size="9.1" text-anchor="middle" font-weight="normal" fill="#222" stroke="#222" stroke-width="0.14" >1</text>
<text x="424.5" y="252.55" font-size="9.1" text-anchor="middle" font-weight="normal" fill="#222" stroke="#222" stroke-width="0.14" >2</text>
<text x="424.5" y="265.6" font-size="9.1" text-anchor="middle" font-weight="normal" fill="#222" stroke="#222" stroke-width="0.14" >3</text>
<text x="424.5" y="278.65" font-size="9.1" text-anchor="middle" font-weight="normal" fill="#222" stroke="#222" stroke-width="0.14" >4</text>
<text x="424.5" y="291.7" font-size="9.1" text-anchor="middle" font-weight="normal" fill="#222" stroke="#222" stroke-width="0.14" >5</text>
<text x="439.5" y="264.8" font-size="9" text-anchor="middle" font-weight="normal" fill="#222" stroke="#222" stroke-width="0.14" >=</text>
<path d="M453.7 228.3 Q449.5 228.3 449.5 230.8 L449.5 258.2 Q449.5 260.2 446.6 260.2 Q449.5 260.2 449.5 262.2 L449.5 290.0 Q449.5 292.5 453.7 292.5" fill="none" stroke="#7088aa" stroke-width="0.8"/>
<path d="M484.3 228.3 Q488.1 228.3 488.1 230.8 L488.1 258.2 Q488.1 260.2 490.9 260.2 Q488.1 260.2 488.1 262.2 L488.1 290.0 Q488.1 292.5 484.3 292.5" fill="none" stroke="#7088aa" stroke-width="0.8"/>
<text x="454.6" y="239.8" font-size="8.9" text-anchor="start" font-weight="normal" fill="#151515" stroke="#151515" stroke-width="0.14" >Code 1</text>
<text x="454.6" y="252.70000000000002" font-size="8.9" text-anchor="start" font-weight="normal" fill="#151515" stroke="#151515" stroke-width="0.14" >Code 2</text>
<text x="454.6" y="265.6" font-size="8.9" text-anchor="start" font-weight="bold" fill="#000" stroke="#000" stroke-width="0.1" >Code 3</text>
<path d="M493.6 258.9 L496.3 263.4 L501.8 254.0" stroke="#3a3a3a" stroke-width="0.95" fill="none"/>
<text x="454.6" y="278.5" font-size="8.9" text-anchor="start" font-weight="normal" fill="#151515" stroke="#151515" stroke-width="0.14" >Code 4</text>
<text x="454.6" y="291.40000000000003" font-size="8.9" text-anchor="start" font-weight="normal" fill="#151515" stroke="#151515" stroke-width="0.14" >Code 5</text>
<path d="M493.4 233.9 L497.79999999999995 238.70000000000002 M497.79999999999995 233.9 L493.4 238.70000000000002" stroke="#d0021b" stroke-width="1.1" fill="none"/>
<path d="M493.4 246.1 L497.79999999999995 250.9 M497.79999999999995 246.1 L493.4 250.9" stroke="#d0021b" stroke-width="1.1" fill="none"/>
<path d="M493.4 269.8 L497.79999999999995 274.6 M497.79999999999995 269.8 L493.4 274.6" stroke="#d0021b" stroke-width="1.1" fill="none"/>
<path d="M493.4 281.8 L497.79999999999995 286.6 M497.79999999999995 281.8 L493.4 286.6" stroke="#d0021b" stroke-width="1.1" fill="none"/>
<rect x="50.8" y="334.4" width="417.5" height="31.8" rx="3.5" ry="3.5" fill="none" stroke="#555" stroke-width="0.9"/>
<rect x="58.2" y="341.3" width="15.5" height="7.2" fill="#3e6cc8" stroke="#1d2f55" stroke-width="0.7"/>
<rect x="58.2" y="351.9" width="15.5" height="7.2" fill="#f77a7a" stroke="#5a2b2b" stroke-width="0.7"/>
<text x="78.0" y="348.4" font-size="9.35" text-anchor="start" font-weight="normal" fill="#222" stroke="#222" stroke-width="0.14" >Conv2D, PReLU</text>
<text x="78.0" y="358.7" font-size="9.35" text-anchor="start" font-weight="normal" fill="#222" stroke="#222" stroke-width="0.14" textLength="125.2" lengthAdjust="spacing">Max pool, 2×2, BatchNorm2D</text>
<rect x="210.5" y="341.3" width="15.5" height="7.2" fill="#ffd633" stroke="#5a4a10" stroke-width="0.7"/>
<text x="231.7" y="348.4" font-size="9.35" text-anchor="start" font-weight="normal" fill="#222" stroke="#222" stroke-width="0.14" >FC, PReLU, Dropout,</text>
<text x="231.7" y="358.7" font-size="9.35" text-anchor="start" font-weight="normal" fill="#222" stroke="#222" stroke-width="0.14" >BatchNorm1D</text>
<rect x="339.4" y="341.3" width="15.5" height="7.2" fill="#9bd9cf" stroke="#3a5550" stroke-width="0.7"/>
<rect x="339.4" y="351.9" width="15.5" height="7.2" fill="#4b8a2d" stroke="#1f3a12" stroke-width="0.7"/>
<text x="362.8" y="347.6" font-size="9.35" text-anchor="start" font-weight="normal" fill="#222" stroke="#222" stroke-width="0.14" >FC, Dropout, Softmax</text>
<text x="362.8" y="357.6" font-size="9.35" text-anchor="start" font-weight="normal" fill="#222" stroke="#222" stroke-width="0.14" >FC, Dropout, Softplus</text>
<text x="508.4" y="34.4" font-size="16" text-anchor="start" font-weight="bold" fill="#000" stroke="#000" stroke-width="0.1" >b</text>
<line x1="555.66" y1="34.0" x2="555.66" y2="129.75" stroke="#6e6e6e" stroke-width="1"/>
<line x1="551.86" y1="126.35" x2="665.4" y2="126.35" stroke="#6e6e6e" stroke-width="1"/>
<line x1="551.86" y1="107.88" x2="555.66" y2="107.88" stroke="#6e6e6e" stroke-width="1"/>
<line x1="551.86" y1="89.41" x2="555.66" y2="89.41" stroke="#6e6e6e" stroke-width="1"/>
<line x1="551.86" y1="70.94" x2="555.66" y2="70.94" stroke="#6e6e6e" stroke-width="1"/>
<line x1="551.86" y1="52.47" x2="555.66" y2="52.47" stroke="#6e6e6e" stroke-width="1"/>
<line x1="551.86" y1="34.0" x2="555.66" y2="34.0" stroke="#6e6e6e" stroke-width="1"/>
<text x="550.2" y="129.85" font-size="10.3" text-anchor="end" font-weight="normal" fill="#111" stroke="#111" stroke-width="0.14" >0</text>
<text x="550.2" y="111.38" font-size="10.3" text-anchor="end" font-weight="normal" fill="#111" stroke="#111" stroke-width="0.14" >20</text>
<text x="550.2" y="92.91" font-size="10.3" text-anchor="end" font-weight="normal" fill="#111" stroke="#111" stroke-width="0.14" >40</text>
<text x="550.2" y="74.44" font-size="10.3" text-anchor="end" font-weight="normal" fill="#111" stroke="#111" stroke-width="0.14" >60</text>
<text x="550.2" y="55.97" font-size="10.3" text-anchor="end" font-weight="normal" fill="#111" stroke="#111" stroke-width="0.14" >80</text>
<text x="550.2" y="37.5" font-size="10.3" text-anchor="end" font-weight="normal" fill="#111" stroke="#111" stroke-width="0.14" >100</text>
<line x1="583.095" y1="126.35" x2="583.095" y2="129.75" stroke="#6e6e6e" stroke-width="1"/>
<line x1="610.53" y1="126.35" x2="610.53" y2="129.75" stroke="#6e6e6e" stroke-width="1"/>
<line x1="637.9649999999999" y1="126.35" x2="637.9649999999999" y2="129.75" stroke="#6e6e6e" stroke-width="1"/>
<line x1="665.4" y1="126.35" x2="665.4" y2="129.75" stroke="#6e6e6e" stroke-width="1"/>
<text x="555.66" y="140.8" font-size="10.3" text-anchor="middle" font-weight="normal" fill="#111" stroke="#111" stroke-width="0.14" >0</text>
<text x="583.095" y="140.8" font-size="10.3" text-anchor="middle" font-weight="normal" fill="#111" stroke="#111" stroke-width="0.14" >50</text>
<text x="610.53" y="140.8" font-size="10.3" text-anchor="middle" font-weight="normal" fill="#111" stroke="#111" stroke-width="0.14" >100</text>
<text x="637.9649999999999" y="140.8" font-size="10.3" text-anchor="middle" font-weight="normal" fill="#111" stroke="#111" stroke-width="0.14" >150</text>
<text x="665.4" y="140.8" font-size="10.3" text-anchor="middle" font-weight="normal" fill="#111" stroke="#111" stroke-width="0.14" >200</text>
<text x="610.8" y="155.8" font-size="10.8" text-anchor="middle" font-weight="normal" fill="#111" stroke="#111" stroke-width="0.14" >Epoch</text>
<text x="0" y="0" font-size="10.8" text-anchor="middle" font-weight="normal" fill="#111" stroke="#111" stroke-width="0.14" transform="translate(529.0 78.3) rotate(-90)">Accuracy (%)</text>
<path d="M555.66 81.56 L556.21 41.39 L556.76 35.46 L557.31 35.62 L557.85 35.15 L558.40 35.69 L558.95 35.26 L559.50 35.42 L560.05 35.70 L560.60 35.29 L561.15 35.72 L561.70 35.35 L562.24 35.69 L562.79 35.67 L563.34 35.36 L563.89 34.99 L564.44 35.64 L564.99 35.55 L565.54 35.18 L566.09 34.88 L566.68 35.39 L566.80 37.69 L566.80 37.69 L566.92 35.39 L566.63 34.85 L567.18 35.71 L567.73 34.96 L568.28 35.49 L568.83 35.62 L569.38 35.65 L569.93 35.47 L570.47 35.00 L571.02 35.59 L571.57 35.22 L572.38 35.41 L572.50 35.85 L572.50 35.85 L572.62 35.41 L572.12 35.25 L572.67 35.70 L573.22 35.70 L573.77 35.56 L574.32 35.13 L574.86 35.36 L575.33 35.21 L575.45 81.65 L575.45 81.65 L575.57 35.21 L575.41 35.34 L575.96 35.48 L576.51 35.02 L577.06 35.11 L577.61 35.53 L578.16 35.22 L578.71 35.27 L579.25 34.95 L579.80 35.08 L579.96 34.85 L580.08 67.97 L580.08 67.97 L580.20 34.85 L580.35 35.65 L580.88 35.06 L581.00 81.65 L581.00 81.65 L581.12 35.06 L580.90 35.61 L581.45 35.30 L581.92 35.14 L582.04 77.51 L582.04 77.51 L582.16 35.14 L582.00 35.05 L582.55 35.23 L583.10 34.95 L583.64 35.46 L584.18 35.21 L584.30 81.65 L584.30 81.65 L584.42 35.21 L584.19 35.22 L584.74 35.33 L585.36 34.88 L585.48 76.66 L585.48 76.66 L585.60 34.88 L585.29 35.32 L585.84 35.14 L586.83 35.11 L586.95 80.91 L588.15 80.91 L588.27 35.11 L586.39 35.16 L586.94 34.84 L587.48 35.00 L588.03 35.49 L588.11 35.14 L588.23 61.08 L588.23 61.08 L588.35 35.14 L588.58 35.73 L589.13 35.33 L589.68 35.60 L590.18 35.70 L590.30 52.47 L590.30 52.47 L590.42 35.70 L590.23 35.05 L590.98 35.53 L591.10 80.91 L591.10 80.91 L591.22 35.53 L590.64 34.95 L590.76 75.05 L590.76 75.05 L590.88 34.95 L590.78 35.68 L591.33 35.34 L591.87 35.25 L592.42 34.94 L592.97 35.00 L593.52 34.96 L594.07 35.50 L594.73 35.42 L594.85 81.65 L594.85 81.65 L594.97 35.42 L594.48 34.87 L594.60 50.80 L594.60 50.80 L594.72 34.87 L594.62 35.62 L595.17 35.59 L595.31 35.54 L595.43 70.71 L595.43 70.71 L595.55 35.54 L595.72 35.31 L596.26 35.21 L596.57 35.75 L596.69 60.63 L596.69 60.63 L596.81 35.75 L596.81 35.37 L597.36 35.41 L597.88 34.87 L598.00 81.65 L598.00 81.65 L598.12 34.87 L597.91 35.12 L598.46 35.28 L599.01 35.18 L599.56 35.13 L600.10 35.70 L601.03 35.03 L601.15 80.91 L601.85 80.91 L601.97 35.03 L600.65 34.95 L601.30 35.39 L601.42 75.54 L601.42 75.54 L601.54 35.39 L601.20 35.39 L601.75 35.66 L602.30 35.17 L603.02 35.69 L603.14 73.63 L603.14 73.63 L603.26 35.69 L602.85 35.56 L603.18 35.44 L603.30 47.85 L603.30 47.85 L603.42 35.44 L603.40 35.71 L603.95 35.75 L604.53 35.66 L604.65 80.91 L604.65 80.91 L604.77 35.66 L604.55 35.73 L604.67 67.84 L604.67 67.84 L604.79 35.73 L604.49 34.95 L605.04 35.19 L605.59 35.62 L606.14 35.52 L606.69 35.43 L607.63 35.64 L607.75 80.91 L609.15 80.91 L609.27 35.64 L607.24 34.97 L607.79 34.84 L608.34 35.32 L608.95 35.68 L609.07 70.68 L609.07 70.68 L609.19 35.68 L608.88 35.66 L609.67 35.51 L609.79 74.05 L609.79 74.05 L609.91 35.51 L609.43 34.99 L609.91 35.73 L610.03 46.75 L610.03 46.75 L610.15 35.73 L609.93 35.27 L610.05 50.57 L610.05 50.57 L610.17 35.27 L610.15 35.25 L610.27 62.35 L610.27 62.35 L610.39 35.25 L609.98 35.73 L610.53 35.27 L611.43 34.96 L611.55 80.91 L612.15 80.91 L612.27 34.96 L611.08 35.11 L611.63 35.51 L612.18 35.42 L612.72 35.60 L613.27 35.04 L613.82 35.26 L614.73 35.45 L614.85 80.91 L615.35 80.91 L615.47 35.45 L614.37 35.55 L614.92 35.01 L615.47 34.85 L616.02 34.97 L616.73 35.00 L616.85 61.70 L617.35 61.70 L617.47 35.00 L616.57 35.07 L617.11 35.55 L617.66 35.28 L618.21 35.43 L618.76 35.73 L619.31 35.73 L619.73 35.52 L619.85 41.39 L619.85 41.39 L619.97 35.52 L619.86 35.12 L620.41 34.87 L620.96 35.34 L621.73 34.84 L621.85 45.08 L621.85 45.08 L621.97 34.84 L621.50 34.87 L622.05 35.42 L622.60 35.55 L623.15 35.55 L623.70 35.57 L624.48 35.18 L624.60 81.65 L624.60 81.65 L624.72 35.18 L624.25 34.92 L624.79 35.31 L624.91 59.39 L624.91 59.39 L625.03 35.31 L624.80 35.15 L625.34 35.02 L626.33 35.14 L626.45 80.91 L626.65 80.91 L626.77 35.14 L625.89 34.91 L626.44 35.03 L626.99 35.06 L627.54 35.31 L628.33 35.03 L628.45 80.91 L628.45 80.91 L628.57 35.03 L628.09 35.45 L628.64 35.02 L629.01 35.39 L629.13 60.23 L629.13 60.23 L629.25 35.39 L629.19 35.38 L629.73 34.88 L630.33 35.60 L630.45 81.65 L630.65 81.65 L630.77 35.60 L630.28 35.64 L630.83 35.62 L631.38 34.92 L631.93 35.01 L632.48 35.62 L633.03 34.99 L633.73 35.15 L633.85 58.93 L633.85 58.93 L633.97 35.15 L633.58 35.43 L634.12 35.25 L635.08 35.74 L635.20 80.91 L635.20 80.91 L635.32 35.74 L634.67 34.86 L635.22 35.15 L635.77 35.27 L636.32 34.89 L636.60 34.95 L636.72 57.96 L636.72 57.96 L636.84 34.95 L636.87 34.99 L637.43 35.52 L637.55 70.94 L637.55 70.94 L637.67 35.52 L637.34 35.53 L637.46 69.68 L637.46 69.68 L637.58 35.53 L637.42 35.21 L637.97 35.52 L638.40 35.63 L638.52 64.73 L638.52 64.73 L638.64 35.63 L638.57 35.43 L638.69 46.38 L638.69 46.38 L638.81 35.43 L638.51 35.33 L639.06 35.22 L639.61 34.92 L640.16 35.37 L640.71 34.91 L641.28 35.26 L641.40 63.55 L641.40 63.55 L641.52 35.26 L641.30 35.74 L641.42 67.24 L641.42 67.24 L641.54 35.74 L641.26 35.35 L641.81 35.59 L642.78 35.02 L642.90 81.65 L642.90 81.65 L643.02 35.02 L642.35 35.60 L642.90 35.32 L643.60 35.24 L643.72 63.11 L643.72 63.11 L643.84 35.24 L643.45 35.45 L644.00 35.28 L644.55 35.24 L644.91 35.66 L645.03 52.98 L645.03 52.98 L645.15 35.66 L645.10 35.24 L645.65 35.53 L646.20 35.50 L647.03 35.29 L647.15 80.91 L647.15 80.91 L647.27 35.29 L646.60 35.05 L646.72 67.91 L646.72 67.91 L646.84 35.05 L646.74 34.91 L647.29 35.35 L647.84 35.19 L648.39 35.29 L648.94 35.28 L649.49 35.11 L650.43 35.26 L650.55 81.65 L650.65 81.65 L650.77 35.26 L650.04 35.31 L650.28 35.11 L650.40 49.67 L650.40 49.67 L650.52 35.11 L650.59 34.95 L651.13 34.88 L651.68 35.51 L652.23 35.24 L652.78 34.88 L653.18 35.63 L653.30 43.23 L653.30 43.23 L653.42 35.63 L653.33 35.64 L653.88 35.35 L654.49 35.53 L654.61 64.37 L654.61 64.37 L654.73 35.53 L654.43 35.69 L654.97 35.14 L655.93 34.93 L656.05 81.65 L656.05 81.65 L656.17 34.93 L655.52 35.61 L656.26 35.14 L656.38 55.44 L656.38 55.44 L656.50 35.14 L656.07 35.62 L656.62 34.94 L657.17 34.86 L657.88 34.88 L658.00 81.65 L658.00 81.65 L658.12 34.88 L657.72 35.39 L658.27 35.30 L658.82 34.84 L659.36 34.99 L659.91 35.61 L660.46 35.36 L661.01 35.28 L661.56 35.44 L662.33 35.46 L662.45 81.65 L662.55 81.65 L662.67 35.46 L662.11 35.09 L662.66 35.74 L663.21 35.24 L663.75 35.35 L664.30 35.74 L664.85 35.45 L665.40 35.18" fill="none" stroke="#bdbdbd" stroke-width="1.3" stroke-linejoin="round"/>
<path d="M555.66 78.79 L556.21 41.39 L556.76 35.74 L557.31 36.24 L557.85 35.22 L558.40 35.44 L558.95 35.23 L559.50 36.19 L560.05 36.01 L560.60 36.26 L561.15 35.45 L561.70 36.01 L562.24 36.17 L562.79 35.84 L563.34 35.30 L563.89 35.40 L564.44 36.02 L564.99 36.14 L565.54 35.29 L566.09 35.68 L566.68 36.21 L566.80 37.69 L566.80 37.69 L566.92 36.21 L566.63 36.24 L567.18 35.55 L567.73 35.84 L568.28 36.23 L568.83 35.27 L569.38 35.61 L569.93 35.42 L570.47 36.22 L571.02 35.36 L571.57 36.23 L572.38 35.81 L572.50 35.85 L572.50 35.85 L572.62 35.81 L572.12 35.93 L572.67 35.70 L573.22 35.28 L573.77 36.01 L574.32 36.17 L574.86 35.72 L575.33 36.19 L575.45 81.65 L575.45 81.65 L575.57 36.19 L575.41 36.13 L575.96 36.25 L576.51 36.09 L577.06 35.96 L577.61 35.97 L578.16 35.47 L578.71 35.99 L579.25 35.75 L579.80 36.11 L579.96 36.29 L580.08 67.83 L580.08 67.83 L580.20 36.29 L580.35 36.03 L580.88 35.50 L581.00 81.65 L581.00 81.65 L581.12 35.50 L580.90 35.70 L581.45 36.10 L581.92 35.27 L582.04 75.25 L582.04 75.25 L582.16 35.27 L582.00 36.19 L582.55 35.40 L583.10 35.83 L583.64 35.76 L584.18 35.87 L584.30 81.65 L584.30 81.65 L584.42 35.87 L584.19 35.75 L584.74 35.55 L585.36 35.93 L585.48 75.28 L585.48 75.28 L585.60 35.93 L585.29 35.39 L585.84 35.53 L586.83 35.86 L586.95 78.33 L588.15 78.33 L588.27 35.86 L586.39 35.92 L586.94 36.25 L587.48 36.16 L588.03 36.23 L588.11 36.03 L588.23 60.41 L588.23 60.41 L588.35 36.03 L588.58 36.13 L589.13 36.22 L589.68 35.38 L590.18 35.57 L590.30 52.47 L590.30 52.47 L590.42 35.57 L590.23 36.00 L590.98 35.98 L591.10 78.33 L591.10 78.33 L591.22 35.98 L590.64 36.13 L590.76 74.20 L590.76 74.20 L590.88 36.13 L590.78 35.81 L591.33 36.02 L591.87 35.24 L592.42 35.23 L592.97 35.70 L593.52 36.04 L594.07 35.24 L594.73 35.91 L594.85 81.65 L594.85 81.65 L594.97 35.91 L594.48 35.89 L594.60 50.08 L594.60 50.08 L594.72 35.89 L594.62 35.78 L595.17 35.75 L595.31 35.75 L595.43 68.47 L595.43 68.47 L595.55 35.75 L595.72 36.30 L596.26 36.02 L596.57 35.87 L596.69 60.19 L596.69 60.19 L596.81 35.87 L596.81 36.26 L597.36 36.28 L597.88 36.05 L598.00 81.65 L598.00 81.65 L598.12 36.05 L597.91 35.66 L598.46 35.72 L599.01 35.48 L599.56 35.58 L600.10 35.52 L601.03 35.88 L601.15 78.33 L601.85 78.33 L601.97 35.88 L600.65 35.95 L601.30 36.14 L601.42 74.78 L601.42 74.78 L601.54 36.14 L601.20 35.51 L601.75 35.60 L602.30 36.26 L603.02 35.32 L603.14 73.21 L603.14 73.21 L603.26 35.32 L602.85 35.61 L603.18 35.41 L603.30 47.85 L603.30 47.85 L603.42 35.41 L603.40 36.15 L603.95 35.73 L604.53 35.38 L604.65 78.33 L604.65 78.33 L604.77 35.38 L604.55 35.39 L604.67 67.11 L604.67 67.11 L604.79 35.39 L604.49 35.66 L605.04 35.32 L605.59 35.55 L606.14 35.54 L606.69 36.05 L607.63 36.16 L607.75 78.33 L609.15 78.33 L609.27 36.16 L607.24 35.91 L607.79 36.19 L608.34 35.38 L608.95 35.61 L609.07 69.53 L609.07 69.53 L609.19 35.61 L608.88 35.61 L609.67 35.77 L609.79 72.28 L609.79 72.28 L609.91 35.77 L609.43 36.31 L609.91 35.48 L610.03 45.36 L610.03 45.36 L610.15 35.48 L609.93 35.72 L610.05 50.37 L610.05 50.37 L610.17 35.72 L610.15 36.24 L610.27 60.93 L610.27 60.93 L610.39 36.24 L609.98 35.49 L610.53 36.03 L611.43 36.01 L611.55 78.33 L612.15 78.33 L612.27 36.01 L611.08 35.50 L611.63 36.08 L612.18 35.49 L612.72 35.23 L613.27 35.76 L613.82 35.88 L614.73 35.55 L614.85 78.33 L615.35 78.33 L615.47 35.55 L614.37 35.46 L614.92 35.63 L615.47 35.60 L616.02 36.22 L616.73 36.03 L616.85 59.86 L617.35 59.86 L617.47 36.03 L616.57 35.49 L617.11 35.97 L617.66 35.68 L618.21 36.29 L618.76 36.24 L619.31 36.01 L619.73 35.54 L619.85 41.39 L619.85 41.39 L619.97 35.54 L619.86 35.56 L620.41 35.99 L620.96 35.74 L621.73 35.79 L621.85 45.08 L621.85 45.08 L621.97 35.79 L621.50 36.18 L622.05 35.32 L622.60 36.09 L623.15 35.22 L623.70 35.27 L624.48 35.80 L624.60 81.65 L624.60 81.65 L624.72 35.80 L624.25 35.40 L624.79 35.81 L624.91 57.30 L624.91 57.30 L625.03 35.81 L624.80 36.01 L625.34 36.08 L626.33 36.08 L626.45 78.33 L626.65 78.33 L626.77 36.08 L625.89 35.66 L626.44 36.15 L626.99 35.73 L627.54 35.25 L628.33 35.40 L628.45 78.33 L628.45 78.33 L628.57 35.40 L628.09 35.74 L628.64 35.33 L629.01 36.05 L629.13 58.78 L629.13 58.78 L629.25 36.05 L629.19 35.31 L629.73 35.77 L630.33 36.30 L630.45 81.65 L630.65 81.65 L630.77 36.30 L630.28 35.76 L630.83 35.81 L631.38 35.97 L631.93 36.15 L632.48 35.93 L633.03 35.96 L633.73 36.31 L633.85 57.09 L633.85 57.09 L633.97 36.31 L633.58 35.48 L634.12 35.38 L635.08 35.28 L635.20 78.33 L635.20 78.33 L635.32 35.28 L634.67 35.52 L635.22 35.31 L635.77 35.99 L636.32 35.90 L636.60 35.20 L636.72 55.77 L636.72 55.77 L636.84 35.20 L636.87 35.66 L637.43 35.83 L637.55 69.09 L637.55 69.09 L637.67 35.83 L637.34 36.26 L637.46 69.09 L637.46 69.09 L637.58 36.26 L637.42 36.20 L637.97 35.38 L638.40 35.27 L638.52 64.43 L638.52 64.43 L638.64 35.27 L638.57 36.01 L638.69 44.45 L638.69 44.45 L638.81 36.01 L638.51 35.74 L639.06 36.10 L639.61 35.90 L640.16 35.25 L640.71 35.33 L641.28 35.61 L641.40 61.70 L641.40 61.70 L641.52 35.61 L641.30 35.27 L641.42 65.95 L641.42 65.95 L641.54 35.27 L641.26 35.70 L641.81 35.51 L642.78 35.50 L642.90 81.65 L642.90 81.65 L643.02 35.50 L642.35 35.81 L642.90 35.47 L643.60 35.99 L643.72 62.87 L643.72 62.87 L643.84 35.99 L643.45 36.25 L644.00 35.28 L644.55 36.17 L644.91 35.93 L645.03 52.94 L645.03 52.94 L645.15 35.93 L645.10 35.98 L645.65 35.49 L646.20 35.23 L647.03 35.58 L647.15 78.33 L647.15 78.33 L647.27 35.58 L646.60 35.69 L646.72 66.65 L646.72 66.65 L646.84 35.69 L646.74 35.87 L647.29 36.12 L647.84 36.13 L648.39 36.08 L648.94 35.30 L649.49 35.76 L650.43 35.30 L650.55 81.65 L650.65 81.65 L650.77 35.30 L650.04 35.20 L650.28 36.15 L650.40 48.09 L650.40 48.09 L650.52 36.15 L650.59 36.10 L651.13 36.21 L651.68 35.93 L652.23 36.21 L652.78 36.04 L653.18 35.68 L653.30 43.23 L653.30 43.23 L653.42 35.68 L653.33 35.33 L653.88 35.48 L654.49 35.85 L654.61 64.21 L654.61 64.21 L654.73 35.85 L654.43 35.73 L654.97 35.89 L655.93 36.24 L656.05 81.65 L656.05 81.65 L656.17 36.24 L655.52 36.00 L656.26 36.17 L656.38 54.00 L656.38 54.00 L656.50 36.17 L656.07 35.75 L656.62 35.61 L657.17 35.35 L657.88 36.01 L658.00 81.65 L658.00 81.65 L658.12 36.01 L657.72 36.03 L658.27 35.87 L658.82 35.81 L659.36 35.25 L659.91 35.37 L660.46 35.34 L661.01 36.28 L661.56 36.27 L662.33 35.32 L662.45 81.65 L662.55 81.65 L662.67 35.32 L662.11 35.78 L662.66 35.66 L663.21 36.31 L663.75 35.87 L664.30 35.28 L664.85 35.39 L665.40 35.36" fill="none" stroke="#dc3f16" stroke-width="1.3" stroke-linejoin="round"/>
<path d="M555.66 42.77 L556.10 38.16 L556.76 35.57 L557.85 34.83 L558.40 34.43 L558.95 34.76 L559.50 34.83 L560.05 34.81 L560.60 34.64 L561.15 34.56 L561.70 34.44 L562.24 34.54 L562.79 34.58 L563.34 34.52 L563.89 34.67 L564.44 34.62 L564.99 34.86 L565.54 34.52 L566.09 34.77 L566.63 34.45 L567.18 34.58 L567.73 34.74 L568.28 34.82 L568.83 34.76 L569.38 34.58 L569.93 34.55 L570.47 34.83 L571.02 34.84 L571.57 34.64 L572.12 34.61 L572.67 34.70 L573.22 34.77 L573.77 34.60 L574.32 34.87 L574.86 34.74 L575.41 34.66 L575.96 34.43 L576.51 34.58 L577.06 34.47 L577.61 34.66 L578.16 34.77 L578.71 34.76 L579.25 34.43 L579.80 34.55 L580.35 34.74 L580.90 34.87 L581.45 34.65 L582.00 34.57 L582.55 34.68 L583.10 34.76 L583.64 34.57 L584.19 34.45 L584.74 34.77 L585.29 34.86 L585.84 34.72 L586.39 34.68 L586.94 34.56 L587.48 34.79 L588.03 34.51 L588.58 34.54 L589.13 34.64 L589.68 34.78 L590.23 34.43 L590.78 34.73 L591.33 34.50 L591.87 34.77 L592.42 34.78 L592.97 34.53 L593.52 34.74 L594.07 34.44 L594.62 34.65 L595.17 34.79 L595.72 34.77 L596.26 34.68 L596.81 34.57 L597.36 34.44 L597.91 34.81 L598.46 34.70 L599.01 34.78 L599.56 34.43 L600.10 34.81 L600.65 34.85 L601.20 34.85 L601.75 34.70 L602.30 34.46 L602.85 34.47 L603.40 34.54 L603.95 34.42 L604.49 34.45 L605.04 34.73 L605.59 34.79 L606.14 34.45 L606.69 34.53 L607.24 34.86 L607.79 34.57 L608.34 34.70 L608.88 34.70 L609.43 34.72 L609.98 34.80 L610.53 34.88 L611.08 34.75 L611.63 34.72 L612.18 34.44 L612.72 34.82 L613.27 34.43 L613.82 34.78 L614.37 34.71 L614.92 34.50 L615.47 34.50 L616.02 34.68 L616.57 38.62 L617.11 38.62 L617.66 34.71 L618.21 34.45 L618.76 34.79 L619.31 34.71 L619.86 34.46 L620.41 34.86 L620.96 34.69 L621.50 34.50 L622.05 34.52 L622.60 34.86 L623.15 34.86 L623.70 34.85 L624.25 34.45 L624.80 34.76 L625.34 34.53 L625.89 34.46 L626.44 34.72 L626.99 34.75 L627.54 34.44 L628.09 34.59 L628.64 34.76 L629.19 34.55 L629.73 34.73 L630.28 34.75 L630.83 34.88 L631.38 34.53 L631.93 34.45 L632.48 34.58 L633.03 34.44 L633.58 34.87 L634.12 34.77 L634.67 34.66 L635.22 34.44 L635.77 34.44 L636.32 34.70 L636.87 34.76 L637.42 34.68 L637.96 34.65 L638.51 34.45 L639.06 34.79 L639.61 34.51 L640.16 34.54 L640.71 34.50 L641.26 34.52 L641.81 34.60 L642.35 34.73 L642.90 34.73 L643.45 34.71 L644.00 34.52 L644.55 34.84 L645.10 34.79 L645.65 34.53 L646.20 34.76 L646.74 34.85 L647.29 34.86 L647.84 34.62 L648.39 34.73 L648.94 34.42 L649.49 34.47 L650.04 34.42 L650.59 34.76 L651.13 34.84 L651.68 34.83 L652.23 34.65 L652.78 34.55 L653.33 34.67 L653.88 34.77 L654.43 34.68 L654.97 34.59 L655.52 34.57 L656.07 34.53 L656.62 34.49 L657.17 34.57 L657.72 34.82 L658.27 34.49 L658.82 34.74 L659.36 34.62 L659.91 34.71 L660.46 34.54 L661.01 34.79 L661.56 34.76 L662.11 34.76 L662.66 34.81 L663.21 34.47 L663.75 34.61 L664.30 34.73 L664.85 34.69 L665.40 34.42" fill="none" stroke="#000" stroke-width="1.2" stroke-linejoin="round"/>
<line x1="612.4" y1="93.4" x2="623.8" y2="93.4" stroke="#000" stroke-width="1.3"/>
<text x="630.4" y="97.30000000000001" font-size="9.8" text-anchor="start" font-weight="normal" fill="#111" stroke="#111" stroke-width="0.14" >Training</text>
<line x1="612.4" y1="104.6" x2="623.8" y2="104.6" stroke="#c2c2c2" stroke-width="1.6"/>
<text x="630.4" y="108.5" font-size="9.8" text-anchor="start" font-weight="normal" fill="#111" stroke="#111" stroke-width="0.14" >Validation</text>
<line x1="612.4" y1="116.0" x2="623.8" y2="116.0" stroke="#dc3f16" stroke-width="1.4"/>
<text x="630.4" y="119.9" font-size="9.8" text-anchor="start" font-weight="normal" fill="#111" stroke="#111" stroke-width="0.14" >Test</text>
<text x="508.8" y="200.7" font-size="16" text-anchor="start" font-weight="bold" fill="#000" stroke="#000" stroke-width="0.1" >d</text>
<line x1="555.8" y1="199.4" x2="555.8" y2="294.9" stroke="#a8a8a8" stroke-width="1.3"/>
<line x1="552.0" y1="291.5" x2="665.7" y2="291.5" stroke="#6e6e6e" stroke-width="1"/>
<line x1="552.0" y1="273.08" x2="555.8" y2="273.08" stroke="#6e6e6e" stroke-width="1"/>
<line x1="552.0" y1="254.66" x2="555.8" y2="254.66" stroke="#6e6e6e" stroke-width="1"/>
<line x1="552.0" y1="236.24" x2="555.8" y2="236.24" stroke="#6e6e6e" stroke-width="1"/>
<line x1="552.0" y1="217.82" x2="555.8" y2="217.82" stroke="#6e6e6e" stroke-width="1"/>
<line x1="552.0" y1="199.4" x2="555.8" y2="199.4" stroke="#6e6e6e" stroke-width="1"/>
<text x="550.3" y="295.0" font-size="10.3" text-anchor="end" font-weight="normal" fill="#111" stroke="#111" stroke-width="0.14" >0</text>
<text x="550.3" y="276.58" font-size="10.3" text-anchor="end" font-weight="normal" fill="#111" stroke="#111" stroke-width="0.14" >20</text>
<text x="550.3" y="258.15999999999997" font-size="10.3" text-anchor="end" font-weight="normal" fill="#111" stroke="#111" stroke-width="0.14" >40</text>
<text x="550.3" y="239.74" font-size="10.3" text-anchor="end" font-weight="normal" fill="#111" stroke="#111" stroke-width="0.14" >60</text>
<text x="550.3" y="221.32" font-size="10.3" text-anchor="end" font-weight="normal" fill="#111" stroke="#111" stroke-width="0.14" >80</text>
<text x="550.3" y="202.9" font-size="10.3" text-anchor="end" font-weight="normal" fill="#111" stroke="#111" stroke-width="0.14" >100</text>
<line x1="592.4333333333333" y1="291.5" x2="592.4333333333333" y2="294.9" stroke="#6e6e6e" stroke-width="1"/>
<line x1="629.0666666666667" y1="291.5" x2="629.0666666666667" y2="294.9" stroke="#6e6e6e" stroke-width="1"/>
<line x1="665.7" y1="291.5" x2="665.7" y2="294.9" stroke="#6e6e6e" stroke-width="1"/>
<text x="555.8" y="305.6" font-size="10.3" text-anchor="middle" font-weight="normal" fill="#111" stroke="#111" stroke-width="0.14" >0</text>
<text x="592.4333333333333" y="305.6" font-size="10.3" text-anchor="middle" font-weight="normal" fill="#111" stroke="#111" stroke-width="0.14" >4000</text>
<text x="629.0666666666667" y="305.6" font-size="10.3" text-anchor="middle" font-weight="normal" fill="#111" stroke="#111" stroke-width="0.14" >8000</text>
<text x="665.7" y="305.6" font-size="10.3" text-anchor="middle" font-weight="normal" fill="#111" stroke="#111" stroke-width="0.14" >12000</text>
<text x="611.3" y="320.7" font-size="10.8" text-anchor="middle" font-weight="normal" fill="#111" stroke="#111" stroke-width="0.14" >Epoch</text>
<text x="0" y="0" font-size="10.8" text-anchor="middle" font-weight="normal" fill="#111" stroke="#111" stroke-width="0.14" transform="translate(529.0 244.3) rotate(-90)">Accuracy (%)</text>
<path d="M555.80 291.50 L555.80 229.60 L555.92 242.53 L556.04 233.05 L556.17 244.39 L556.29 231.05 L556.41 246.99 L556.53 224.46 L556.65 238.43 L556.78 230.38 L556.90 238.43 L557.02 224.46 L557.14 236.98 L557.27 226.49 L557.39 241.71 L557.51 222.49 L557.63 240.54 L557.75 225.74 L557.88 241.46 L558.00 225.37 L558.12 238.44 L558.24 225.65 L558.36 239.39 L558.49 222.32 L558.61 234.62 L558.73 220.25 L558.85 235.46 L558.97 220.77 L559.10 235.38 L559.22 220.65 L559.34 231.08 L559.46 220.25 L559.59 231.32 L559.71 217.55 L559.83 232.61 L559.95 219.66 L560.07 231.74 L560.20 216.85 L560.32 230.04 L560.44 216.94 L560.56 231.07 L560.68 216.91 L560.81 229.60 L560.93 216.34 L561.05 227.40 L561.17 216.51 L561.29 226.10 L561.42 221.72 L561.54 228.71 L561.66 218.18 L561.78 229.44 L561.91 215.65 L562.03 225.19 L562.15 215.12 L562.27 227.13 L562.39 215.88 L562.52 227.45 L562.64 221.19 L562.76 228.02 L562.88 213.89 L563.00 224.96 L563.13 214.57 L563.25 224.37 L563.37 216.06 L563.49 227.77 L563.62 214.92 L563.74 222.67 L563.86 214.49 L563.98 223.70 L564.10 212.63 L564.23 225.15 L564.35 217.35 L564.47 224.79 L564.59 215.21 L564.71 224.54 L564.84 213.08 L564.96 223.79 L565.08 215.68 L565.20 220.33 L565.32 215.35 L565.45 219.37 L565.57 211.43 L565.69 219.19 L565.81 212.05 L565.94 222.31 L566.06 211.50 L566.18 222.06 L566.30 214.10 L566.42 221.23 L566.55 213.18 L566.67 221.37 L566.79 212.64 L566.91 221.05 L567.03 210.05 L567.16 218.80 L567.28 213.04 L567.40 218.78 L567.52 209.66 L567.64 218.32 L567.77 212.34 L567.89 216.61 L568.01 210.37 L568.13 218.60 L568.26 215.40 L568.38 219.13 L568.50 212.54 L568.62 217.26 L568.74 210.26 L568.87 217.23 L568.99 210.34 L569.11 218.92 L569.23 212.12 L569.35 217.84 L569.48 209.43 L569.60 216.75 L569.72 208.70 L569.84 216.97 L569.96 211.36 L570.09 218.02 L570.21 210.08 L570.33 215.44 L570.45 211.70 L570.58 216.09 L570.70 209.84 L570.82 214.52 L570.94 208.24 L571.06 217.67 L571.19 208.70 L571.31 217.44 L571.43 207.14 L571.55 214.05 L571.67 207.72 L571.80 215.48 L571.92 209.83 L572.04 216.04 L572.16 206.96 L572.28 214.19 L572.41 206.71 L572.53 214.19 L572.65 209.24 L572.77 215.91 L572.90 209.63 L573.02 213.91 L573.14 209.40 L573.26 215.49 L573.38 207.86 L573.51 214.46 L573.63 208.48 L573.75 215.41 L573.87 206.21 L573.99 215.22 L574.12 209.35 L574.24 214.78 L574.36 207.13 L574.48 212.67 L574.61 208.30 L574.73 212.32 L574.85 208.72 L574.97 212.64 L575.09 208.24 L575.22 214.41 L575.34 207.82 L575.46 212.27 L575.58 205.72 L575.70 212.11 L575.83 207.54 L575.95 212.82 L576.07 207.84 L576.19 214.83 L576.31 206.65 L576.44 212.22 L576.56 205.60 L576.68 211.82 L576.80 205.67 L576.93 218.13 L577.05 207.95 L577.17 211.96 L577.29 206.15 L577.41 214.29 L577.54 205.82 L577.66 215.22 L577.78 206.02 L577.90 213.24 L578.02 208.20 L578.15 211.58 L578.27 205.09 L578.39 212.87 L578.51 206.07 L578.63 212.47 L578.76 207.69 L578.88 211.49 L579.00 204.84 L579.12 211.62 L579.25 204.81 L579.37 212.43 L579.49 205.34 L579.61 212.84 L579.73 205.55 L579.86 212.98 L579.98 206.92 L580.10 213.48 L580.22 204.88 L580.34 211.54 L580.47 206.60 L580.59 212.44 L580.71 207.39 L580.83 212.77 L580.95 205.34 L581.08 212.01 L581.20 207.29 L581.32 212.09 L581.44 206.83 L581.57 211.45 L581.69 205.43 L581.81 210.78 L581.93 206.72 L582.05 212.02 L582.18 206.16 L582.30 211.90 L582.42 205.05 L582.54 212.37 L582.66 206.93 L582.79 212.79 L582.91 205.26 L583.03 212.73 L583.15 204.80 L583.27 210.90 L583.40 207.20 L583.52 211.95 L583.64 206.64 L583.76 211.75 L583.89 206.12 L584.01 212.43 L584.13 204.19 L584.25 210.56 L584.37 205.63 L584.50 211.56 L584.62 205.93 L584.74 210.65 L584.86 205.36 L584.98 210.60 L585.11 204.70 L585.23 210.16 L585.35 206.15 L585.47 210.75 L585.60 205.36 L585.72 210.89 L585.84 205.23 L585.96 210.59 L586.08 204.67 L586.21 211.37 L586.33 205.15 L586.45 209.86 L586.57 205.89 L586.69 211.52 L586.82 209.75 L586.94 212.21 L587.06 206.74 L587.18 212.37 L587.30 205.47 L587.43 211.07 L587.55 206.35 L587.67 211.36 L587.79 204.41 L587.92 211.39 L588.04 204.12 L588.16 213.62 L588.28 207.50 L588.40 211.26 L588.53 204.80 L588.65 211.85 L588.77 206.60 L588.89 211.85 L589.01 204.88 L589.14 212.10 L589.26 206.16 L589.38 211.03 L589.50 204.34 L589.62 211.37 L589.75 206.16 L589.87 211.00 L589.99 205.31 L590.11 209.85 L590.24 206.22 L590.36 211.25 L590.48 204.90 L590.60 212.39 L590.72 204.44 L590.85 211.45 L590.97 204.88 L591.09 210.33 L591.21 206.41 L591.33 212.17 L591.46 206.33 L591.58 211.90 L591.70 206.89 L591.82 209.39 L591.94 204.28 L592.07 211.86 L592.19 205.89 L592.31 211.82 L592.43 205.93 L592.56 209.53 L592.68 205.88 L592.80 209.51 L592.92 206.05 L593.04 210.12 L593.17 205.74 L593.29 209.52 L593.41 204.26 L593.53 211.80 L593.65 203.62 L593.78 211.77 L593.90 204.96 L594.02 213.26 L594.14 204.86 L594.26 210.15 L594.39 204.56 L594.51 209.23 L594.63 205.36 L594.75 212.08 L594.88 205.49 L595.00 211.15 L595.12 204.95 L595.24 212.76 L595.36 205.30 L595.49 209.50 L595.61 204.83 L595.73 209.77 L595.85 204.70 L595.97 210.43 L596.10 204.25 L596.22 210.88 L596.34 204.18 L596.46 209.12 L596.59 205.77 L596.71 211.13 L596.83 205.13 L596.95 213.07 L597.07 206.04 L597.20 211.93 L597.32 203.34 L597.44 209.25 L597.56 205.33 L597.68 209.28 L597.81 205.20 L597.93 209.93 L598.05 205.39 L598.17 210.01 L598.29 205.63 L598.42 215.02 L598.54 206.09 L598.66 210.91 L598.78 205.70 L598.91 211.25 L599.03 204.57 L599.15 210.71 L599.27 209.09 L599.39 211.91 L599.52 205.75 L599.64 209.21 L599.76 203.31 L599.88 210.20 L600.00 206.27 L600.13 210.75 L600.25 205.23 L600.37 212.93 L600.49 205.35 L600.61 209.04 L600.74 205.91 L600.86 211.94 L600.98 203.99 L601.10 214.94 L601.23 205.42 L601.35 209.75 L601.47 205.16 L601.59 210.57 L601.71 204.01 L601.84 211.20 L601.96 205.22 L602.08 211.73 L602.20 205.46 L602.32 209.33 L602.45 203.40 L602.57 210.20 L602.69 205.29 L602.81 209.52 L602.93 205.19 L603.06 210.68 L603.18 205.62 L603.30 209.55 L603.42 204.10 L603.55 208.97 L603.67 205.74 L603.79 210.09 L603.91 205.74 L604.03 211.00 L604.16 205.91 L604.28 209.84 L604.40 205.94 L604.52 213.18 L604.64 204.48 L604.77 209.44 L604.89 203.32 L605.01 209.45 L605.13 204.94 L605.25 209.32 L605.38 205.28 L605.50 210.86 L605.62 204.87 L605.74 211.31 L605.87 206.03 L605.99 210.06 L606.11 204.60 L606.23 211.14 L606.35 205.60 L606.48 211.65 L606.60 205.53 L606.72 210.14 L606.84 205.88 L606.96 210.45 L607.09 203.74 L607.21 211.36 L607.33 204.27 L607.45 210.67 L607.58 207.75 L607.70 210.76 L607.82 205.10 L607.94 211.42 L608.06 204.21 L608.19 215.95 L608.31 205.81 L608.43 210.16 L608.55 205.54 L608.67 209.00 L608.80 205.66 L608.92 213.05 L609.04 203.70 L609.16 211.74 L609.28 205.81 L609.41 208.99 L609.53 203.34 L609.65 210.67 L609.77 206.08 L609.90 210.16 L610.02 206.07 L610.14 210.68 L610.26 203.63 L610.38 208.85 L610.51 203.26 L610.63 210.81 L610.75 205.91 L610.87 211.74 L610.99 205.31 L611.12 210.65 L611.24 205.45 L611.36 209.81 L611.48 204.94 L611.60 211.55 L611.73 203.92 L611.85 210.40 L611.97 203.86 L612.09 213.16 L612.22 207.67 L612.34 211.20 L612.46 205.78 L612.58 211.44 L612.70 203.43 L612.83 209.29 L612.95 204.51 L613.07 209.35 L613.19 205.05 L613.31 214.54 L613.44 204.82 L613.56 209.20 L613.68 204.38 L613.80 211.04 L613.92 204.15 L614.05 210.36 L614.17 205.89 L614.29 212.72 L614.41 205.17 L614.54 210.40 L614.66 203.91 L614.78 210.75 L614.90 206.17 L615.02 211.56 L615.15 209.25 L615.27 210.96 L615.39 203.17 L615.51 210.82 L615.63 203.12 L615.76 210.25 L615.88 204.45 L616.00 211.19 L616.12 203.54 L616.25 209.50 L616.37 203.72 L616.49 211.59 L616.61 204.63 L616.73 211.23 L616.86 205.28 L616.98 210.07 L617.10 203.31 L617.22 210.61 L617.34 203.28 L617.47 210.83 L617.59 205.76 L617.71 211.81 L617.83 204.57 L617.95 211.04 L618.08 205.65 L618.20 211.35 L618.32 207.75 L618.44 210.49 L618.57 203.48 L618.69 209.35 L618.81 204.09 L618.93 210.68 L619.05 203.29 L619.18 208.93 L619.30 204.68 L619.42 214.26 L619.54 203.79 L619.66 211.54 L619.79 207.25 L619.91 209.71 L620.03 203.16 L620.15 210.08 L620.27 205.25 L620.40 209.19 L620.52 203.24 L620.64 210.34 L620.76 203.96 L620.89 210.61 L621.01 204.91 L621.13 211.40 L621.25 205.39 L621.37 209.32 L621.50 204.29 L621.62 209.28 L621.74 204.31 L621.86 209.47 L621.98 203.84 L622.11 210.51 L622.23 205.56 L622.35 209.35 L622.47 203.26 L622.59 208.91 L622.72 203.86 L622.84 209.91 L622.96 204.72 L623.08 210.52 L623.21 203.16 L623.33 208.88 L623.45 205.97 L623.57 209.37 L623.69 208.96 L623.82 211.03 L623.94 203.93 L624.06 209.01 L624.18 203.86 L624.30 210.52 L624.43 203.98 L624.55 209.86 L624.67 204.92 L624.79 210.27 L624.91 204.52 L625.04 211.39 L625.16 203.50 L625.28 210.60 L625.40 203.84 L625.53 210.17 L625.65 204.96 L625.77 209.85 L625.89 205.27 L626.01 210.16 L626.14 204.53 L626.26 211.10 L626.38 204.66 L626.50 212.40 L626.62 205.73 L626.75 210.14 L626.87 203.97 L626.99 210.94 L627.11 203.58 L627.24 209.17 L627.36 203.28 L627.48 210.49 L627.60 203.43 L627.72 208.90 L627.85 203.57 L627.97 210.76 L628.09 204.98 L628.21 209.33 L628.33 205.35 L628.46 209.51 L628.58 205.49 L628.70 209.04 L628.82 209.25 L628.94 210.05 L629.07 206.04 L629.19 210.56 L629.31 205.76 L629.43 210.68 L629.56 204.49 L629.68 210.94 L629.80 204.79 L629.92 210.85 L630.04 205.69 L630.17 210.48 L630.29 204.02 L630.41 210.08 L630.53 203.36 L630.65 210.85 L630.78 205.66 L630.90 211.21 L631.02 207.39 L631.14 210.11 L631.26 205.91 L631.39 210.19 L631.51 204.67 L631.63 209.74 L631.75 204.18 L631.88 210.76 L632.00 205.16 L632.12 211.53 L632.24 204.32 L632.36 210.08 L632.49 206.04 L632.61 210.49 L632.73 206.14 L632.85 210.21 L632.97 203.61 L633.10 208.84 L633.22 204.66 L633.34 209.10 L633.46 205.60 L633.58 209.12 L633.71 203.57 L633.83 210.27 L633.95 203.66 L634.07 209.91 L634.20 204.17 L634.32 212.41 L634.44 205.50 L634.56 211.94 L634.68 205.67 L634.81 209.79 L634.93 204.61 L635.05 211.02 L635.17 204.72 L635.29 210.08 L635.42 203.46 L635.54 209.51 L635.66 203.39 L635.78 210.24 L635.90 204.96 L636.03 215.16 L636.15 204.08 L636.27 210.75 L636.39 203.90 L636.52 209.07 L636.64 204.16 L636.76 214.50 L636.88 204.87 L637.00 210.49 L637.13 207.80 L637.25 209.22 L637.37 205.84 L637.49 210.91 L637.61 206.03 L637.74 208.93 L637.86 204.28 L637.98 211.16 L638.10 205.77 L638.23 209.41 L638.35 203.62 L638.47 211.26 L638.59 203.98 L638.71 211.48 L638.84 204.27 L638.96 211.63 L639.08 205.62 L639.20 211.09 L639.32 203.95 L639.45 211.73 L639.57 204.13 L639.69 209.67 L639.81 203.91 L639.93 211.44 L640.06 205.65 L640.18 211.35 L640.30 205.30 L640.42 208.90 L640.55 206.00 L640.67 211.14 L640.79 203.49 L640.91 211.04 L641.03 204.89 L641.16 211.08 L641.28 203.74 L641.40 211.46 L641.52 204.75 L641.64 209.47 L641.77 205.10 L641.89 210.88 L642.01 203.35 L642.13 209.23 L642.25 205.12 L642.38 210.11 L642.50 204.62 L642.62 211.63 L642.74 203.78 L642.87 209.64 L642.99 204.32 L643.11 209.46 L643.23 205.72 L643.35 214.25 L643.48 205.12 L643.60 210.57 L643.72 205.23 L643.84 209.24 L643.96 205.01 L644.09 211.48 L644.21 205.33 L644.33 213.54 L644.45 203.69 L644.57 212.91 L644.70 205.04 L644.82 209.26 L644.94 205.28 L645.06 210.50 L645.19 207.84 L645.31 209.46 L645.43 203.22 L645.55 212.03 L645.67 203.43 L645.80 211.19 L645.92 205.38 L646.04 209.71 L646.16 205.37 L646.28 210.97 L646.41 205.98 L646.53 208.99 L646.65 205.35 L646.77 209.91 L646.89 203.25 L647.02 210.52 L647.14 205.93 L647.26 212.82 L647.38 205.55 L647.51 210.16 L647.63 205.04 L647.75 213.44 L647.87 204.35 L647.99 210.88 L648.12 205.25 L648.24 211.11 L648.36 204.66 L648.48 208.97 L648.60 204.00 L648.73 211.40 L648.85 204.11 L648.97 210.16 L649.09 203.60 L649.22 210.00 L649.34 205.43 L649.46 211.48 L649.58 204.19 L649.70 211.65 L649.83 203.69 L649.95 210.46 L650.07 204.08 L650.19 210.72 L650.31 207.43 L650.44 209.54 L650.56 205.28 L650.68 210.11 L650.80 204.58 L650.92 211.25 L651.05 203.11 L651.17 209.86 L651.29 205.95 L651.41 211.06 L651.54 207.03 L651.66 209.26 L651.78 203.65 L651.90 209.24 L652.02 203.60 L652.15 209.29 L652.27 204.08 L652.39 209.31 L652.51 204.21 L652.63 210.70 L652.76 206.77 L652.88 209.91 L653.00 205.25 L653.12 208.94 L653.24 204.61 L653.37 210.92 L653.49 203.33 L653.61 211.33 L653.73 206.05 L653.86 211.71 L653.98 203.67 L654.10 211.83 L654.22 205.70 L654.34 210.53 L654.47 205.11 L654.59 210.54 L654.71 204.43 L654.83 209.30 L654.95 203.59 L655.08 210.48 L655.20 204.15 L655.32 211.57 L655.44 204.49 L655.56 209.05 L655.69 206.07 L655.81 209.94 L655.93 203.27 L656.05 209.97 L656.18 204.83 L656.30 210.36 L656.42 204.00 L656.54 211.03 L656.66 205.16 L656.79 211.57 L656.91 204.22 L657.03 210.56 L657.15 204.81 L657.27 211.48 L657.40 205.81 L657.52 211.49 L657.64 203.86 L657.76 210.21 L657.88 204.58 L658.01 211.14 L658.13 203.43 L658.25 210.03 L658.37 204.33 L658.50 210.49 L658.62 204.77 L658.74 209.52 L658.86 206.12 L658.98 211.52 L659.11 204.28 L659.23 208.89 L659.35 205.46 L659.47 211.49 L659.59 207.25 L659.72 211.18 L659.84 205.25 L659.96 209.11 L660.08 205.75 L660.21 209.02 L660.33 203.60 L660.45 210.79 L660.57 205.17 L660.69 211.46 L660.82 205.34 L660.94 212.67 L661.06 203.39 L661.18 209.37 L661.30 205.92 L661.43 211.05 L661.55 204.45 L661.67 210.05 L661.79 203.15 L661.91 209.38 L662.04 204.78 L662.16 209.73 L662.28 203.53 L662.40 210.18 L662.53 205.56 L662.65 211.79 L662.77 203.55 L662.89 209.16 L663.01 203.19 L663.14 209.33 L663.26 204.29 L663.38 211.35 L663.50 204.29 L663.62 209.96 L663.75 204.09 L663.87 209.10 L663.99 203.22 L664.11 210.73 L664.23 204.85 L664.36 213.73 L664.48 206.76 L664.60 210.60 L664.72 205.14 L664.85 211.00 L664.97 203.89 L665.09 210.22 L665.21 209.05 L665.33 209.47 L665.46 205.46 L665.58 209.89 L665.70 203.95" fill="none" stroke="#9c9c9c" stroke-width="0.75"/>
<path d="M556.10 274.92 L555.80 221.92 L555.92 229.83 L556.04 220.80 L556.17 230.32 L556.29 217.85 L556.41 233.01 L556.53 217.30 L556.65 229.37 L556.78 216.45 L556.90 231.01 L557.02 219.76 L557.14 228.50 L557.27 216.09 L557.39 230.15 L557.51 215.78 L557.63 226.88 L557.75 215.62 L557.88 228.25 L558.00 216.61 L558.12 226.98 L558.24 215.44 L558.36 228.06 L558.49 217.65 L558.61 228.54 L558.73 213.95 L558.85 226.30 L558.97 213.30 L559.10 222.48 L559.22 213.00 L559.34 221.57 L559.46 212.13 L559.59 221.62 L559.71 212.15 L559.83 222.93 L559.95 214.39 L560.07 224.14 L560.20 214.64 L560.32 222.79 L560.44 215.27 L560.56 224.13 L560.68 212.09 L560.81 221.11 L560.93 217.24 L561.05 220.91 L561.17 210.30 L561.29 219.81 L561.42 210.26 L561.54 222.14 L561.66 210.02 L561.78 220.51 L561.91 212.05 L562.03 219.13 L562.15 210.67 L562.27 220.58 L562.39 212.36 L562.52 220.02 L562.64 213.05 L562.76 219.84 L562.88 214.07 L563.00 218.68 L563.13 211.72 L563.25 216.22 L563.37 212.92 L563.49 222.75 L563.62 210.39 L563.74 215.90 L563.86 208.53 L563.98 216.47 L564.10 212.66 L564.23 218.21 L564.35 209.59 L564.47 217.53 L564.59 209.25 L564.71 219.14 L564.84 207.53 L564.96 216.78 L565.08 207.36 L565.20 216.50 L565.32 210.61 L565.45 216.97 L565.57 207.83 L565.69 216.70 L565.81 209.55 L565.94 216.21 L566.06 207.36 L566.18 216.50 L566.30 209.63 L566.42 214.09 L566.55 207.32 L566.67 214.85 L566.79 206.75 L566.91 214.24 L567.03 208.11 L567.16 215.42 L567.28 207.20 L567.40 212.90 L567.52 208.84 L567.64 216.49 L567.77 213.82 L567.89 215.01 L568.01 205.91 L568.13 215.62 L568.26 208.60 L568.38 212.13 L568.50 205.46 L568.62 212.27 L568.74 205.37 L568.87 213.98 L568.99 210.53 L569.11 213.53 L569.23 205.44 L569.35 213.95 L569.48 205.53 L569.60 213.74 L569.72 209.16 L569.84 212.45 L569.96 205.88 L570.09 210.78 L570.21 207.01 L570.33 213.16 L570.45 208.05 L570.58 212.27 L570.70 209.55 L570.82 211.36 L570.94 206.12 L571.06 210.20 L571.19 206.55 L571.31 212.12 L571.43 207.24 L571.55 211.78 L571.67 204.60 L571.80 212.80 L571.92 206.90 L572.04 210.83 L572.16 204.74 L572.28 212.20 L572.41 206.28 L572.53 212.26 L572.65 204.83 L572.77 210.66 L572.90 210.79 L573.02 209.65 L573.14 205.47 L573.26 211.35 L573.38 205.83 L573.51 209.85 L573.63 205.12 L573.75 209.84 L573.87 205.34 L573.99 211.04 L574.12 204.23 L574.24 210.22 L574.36 204.90 L574.48 210.83 L574.61 205.97 L574.73 209.88 L574.85 205.58 L574.97 210.76 L575.09 204.53 L575.22 208.85 L575.34 208.38 L575.46 208.75 L575.58 203.48 L575.70 212.95 L575.83 205.28 L575.95 212.45 L576.07 205.74 L576.19 209.54 L576.31 205.14 L576.44 210.26 L576.56 203.92 L576.68 209.94 L576.80 203.80 L576.93 210.44 L577.05 206.40 L577.17 208.50 L577.29 203.66 L577.41 211.84 L577.54 205.02 L577.66 209.12 L577.78 204.33 L577.90 210.04 L578.02 203.63 L578.15 209.31 L578.27 204.31 L578.39 209.09 L578.51 204.08 L578.63 209.44 L578.76 204.38 L578.88 208.15 L579.00 202.69 L579.12 208.82 L579.25 203.74 L579.37 211.36 L579.49 203.61 L579.61 207.52 L579.73 203.60 L579.86 208.47 L579.98 203.66 L580.10 207.84 L580.22 207.23 L580.34 208.07 L580.47 206.42 L580.59 209.20 L580.71 206.68 L580.83 211.83 L580.95 204.00 L581.08 209.14 L581.20 203.24 L581.32 206.76 L581.44 204.32 L581.57 208.34 L581.69 202.17 L581.81 208.44 L581.93 202.88 L582.05 206.96 L582.18 203.33 L582.30 208.88 L582.42 204.16 L582.54 206.88 L582.66 205.89 L582.79 208.00 L582.91 203.19 L583.03 207.97 L583.15 202.47 L583.27 210.01 L583.40 203.24 L583.52 207.41 L583.64 202.59 L583.76 208.02 L583.89 203.82 L584.01 207.59 L584.13 202.95 L584.25 208.49 L584.37 207.94 L584.50 208.41 L584.62 202.27 L584.74 207.22 L584.86 203.00 L584.98 206.92 L585.11 202.30 L585.23 208.12 L585.35 204.00 L585.47 206.60 L585.60 202.73 L585.72 207.78 L585.84 203.34 L585.96 208.21 L586.08 201.83 L586.21 207.63 L586.33 203.05 L586.45 206.98 L586.57 203.79 L586.69 206.31 L586.82 203.51 L586.94 210.09 L587.06 203.12 L587.18 210.02 L587.30 203.30 L587.43 211.03 L587.55 201.91 L587.67 205.85 L587.79 202.81 L587.92 207.29 L588.04 202.72 L588.16 207.84 L588.28 203.53 L588.40 208.69 L588.53 202.18 L588.65 206.09 L588.77 207.22 L588.89 205.79 L589.01 203.66 L589.14 207.82 L589.26 202.53 L589.38 206.25 L589.50 203.27 L589.62 207.73 L589.75 201.71 L589.87 206.10 L589.99 205.78 L590.11 207.61 L590.24 201.77 L590.36 207.02 L590.48 202.93 L590.60 207.41 L590.72 202.18 L590.85 205.83 L590.97 206.39 L591.09 207.48 L591.21 205.71 L591.33 207.35 L591.46 202.53 L591.58 207.26 L591.70 204.12 L591.82 205.76 L591.94 208.20 L592.07 206.58 L592.19 202.63 L592.31 207.13 L592.43 201.71 L592.56 207.54 L592.68 202.49 L592.80 209.16 L592.92 201.86 L593.04 205.86 L593.17 201.48 L593.29 206.25 L593.41 201.43 L593.53 206.03 L593.65 202.07 L593.78 206.52 L593.90 201.34 L594.02 206.61 L594.14 201.50 L594.26 205.90 L594.39 201.63 L594.51 207.16 L594.63 201.77 L594.75 205.35 L594.88 202.99 L595.00 206.37 L595.12 203.23 L595.24 206.05 L595.36 202.61 L595.49 209.74 L595.61 202.01 L595.73 205.32 L595.85 207.29 L595.97 205.37 L596.10 202.85 L596.22 205.65 L596.34 202.17 L596.46 205.67 L596.59 201.87 L596.71 206.20 L596.83 201.48 L596.95 205.64 L597.07 203.01 L597.20 206.89 L597.32 201.72 L597.44 205.36 L597.56 202.72 L597.68 205.62 L597.81 202.66 L597.93 205.52 L598.05 201.38 L598.17 205.49 L598.29 202.46 L598.42 208.75 L598.54 205.60 L598.66 206.35 L598.78 202.15 L598.91 206.78 L599.03 202.96 L599.15 208.98 L599.27 202.66 L599.39 205.81 L599.52 201.42 L599.64 207.11 L599.76 201.55 L599.88 205.17 L600.00 201.63 L600.13 205.89 L600.25 201.98 L600.37 205.16 L600.49 203.23 L600.61 205.41 L600.74 204.28 L600.86 205.16 L600.98 202.84 L601.10 209.82 L601.23 202.95 L601.35 206.34 L601.47 203.01 L601.59 206.97 L601.71 202.06 L601.84 206.36 L601.96 202.45 L602.08 206.01 L602.20 203.02 L602.32 206.34 L602.45 201.24 L602.57 205.66 L602.69 202.05 L602.81 205.22 L602.93 205.26 L603.06 206.79 L603.18 202.97 L603.30 205.84 L603.42 201.20 L603.55 205.50 L603.67 201.69 L603.79 206.45 L603.91 201.97 L604.03 205.70 L604.16 202.50 L604.28 205.04 L604.40 202.53 L604.52 206.70 L604.64 202.81 L604.77 209.59 L604.89 202.91 L605.01 205.49 L605.13 204.21 L605.25 206.22 L605.38 203.08 L605.50 206.37 L605.62 201.49 L605.74 208.44 L605.87 201.89 L605.99 205.00 L606.11 201.49 L606.23 206.06 L606.35 202.39 L606.48 206.34 L606.60 202.64 L606.72 205.83 L606.84 202.62 L606.96 206.23 L607.09 202.16 L607.21 205.67 L607.33 207.08 L607.45 205.80 L607.58 203.00 L607.70 209.87 L607.82 202.61 L607.94 206.11 L608.06 201.28 L608.19 205.63 L608.31 202.36 L608.43 205.35 L608.55 202.99 L608.67 206.24 L608.80 202.71 L608.92 206.56 L609.04 202.14 L609.16 205.56 L609.28 201.32 L609.41 206.80 L609.53 202.08 L609.65 205.56 L609.77 201.87 L609.90 206.37 L610.02 202.66 L610.14 206.62 L610.26 202.59 L610.38 205.07 L610.51 202.56 L610.63 205.58 L610.75 201.30 L610.87 205.47 L610.99 205.20 L611.12 205.22 L611.24 201.47 L611.36 206.72 L611.48 203.03 L611.60 206.17 L611.73 201.17 L611.85 209.93 L611.97 201.31 L612.09 206.78 L612.22 202.16 L612.34 206.82 L612.46 201.25 L612.58 205.60 L612.70 201.70 L612.83 206.44 L612.95 201.45 L613.07 205.23 L613.19 201.08 L613.31 206.83 L613.44 205.59 L613.56 205.39 L613.68 201.84 L613.80 205.67 L613.92 202.80 L614.05 205.23 L614.17 201.69 L614.29 206.73 L614.41 201.29 L614.54 205.47 L614.66 201.94 L614.78 206.48 L614.90 201.59 L615.02 205.36 L615.15 201.91 L615.27 205.42 L615.39 201.55 L615.51 205.43 L615.63 202.54 L615.76 204.98 L615.88 204.62 L616.00 206.83 L616.12 202.48 L616.25 206.32 L616.37 201.34 L616.49 204.82 L616.61 201.09 L616.73 206.13 L616.86 202.65 L616.98 208.59 L617.10 202.59 L617.22 204.82 L617.34 202.63 L617.47 206.95 L617.59 202.15 L617.71 206.42 L617.83 201.04 L617.95 205.39 L618.08 203.00 L618.20 205.34 L618.32 202.66 L618.44 208.74 L618.57 202.19 L618.69 206.82 L618.81 202.60 L618.93 206.75 L619.05 204.66 L619.18 205.56 L619.30 201.98 L619.42 206.41 L619.54 202.84 L619.66 206.62 L619.79 201.25 L619.91 205.90 L620.03 202.29 L620.15 209.98 L620.27 201.10 L620.40 206.01 L620.52 202.45 L620.64 205.50 L620.76 201.95 L620.89 204.97 L621.01 201.12 L621.13 204.81 L621.25 201.79 L621.37 205.14 L621.50 204.23 L621.62 204.83 L621.74 203.33 L621.86 204.92 L621.98 202.36 L622.11 205.52 L622.23 201.52 L622.35 206.78 L622.47 201.20 L622.59 205.37 L622.72 202.63 L622.84 210.05 L622.96 202.80 L623.08 206.81 L623.21 202.12 L623.33 205.79 L623.45 202.20 L623.57 210.05 L623.69 201.58 L623.82 206.80 L623.94 201.03 L624.06 205.16 L624.18 201.23 L624.30 206.39 L624.43 201.21 L624.55 205.69 L624.67 201.17 L624.79 205.07 L624.91 201.19 L625.04 206.19 L625.16 201.28 L625.28 204.81 L625.40 202.80 L625.53 205.39 L625.65 202.04 L625.77 205.97 L625.89 202.30 L626.01 205.31 L626.14 202.84 L626.26 209.23 L626.38 202.71 L626.50 205.01 L626.62 202.90 L626.75 205.36 L626.87 201.59 L626.99 209.15 L627.11 202.98 L627.24 204.90 L627.36 202.68 L627.48 205.27 L627.60 201.49 L627.72 206.76 L627.85 202.78 L627.97 206.13 L628.09 202.56 L628.21 205.18 L628.33 201.19 L628.46 206.16 L628.58 201.72 L628.70 204.83 L628.82 202.06 L628.94 205.70 L629.07 201.81 L629.19 205.39 L629.31 201.16 L629.43 206.21 L629.56 201.00 L629.68 205.34 L629.80 201.33 L629.92 205.39 L630.04 202.49 L630.17 206.29 L630.29 201.03 L630.41 206.37 L630.53 202.94 L630.65 205.59 L630.78 202.19 L630.90 207.80 L631.02 201.00 L631.14 209.70 L631.26 202.95 L631.39 206.23 L631.51 203.83 L631.63 205.96 L631.75 201.88 L631.88 206.60 L632.00 201.67 L632.12 206.73 L632.24 201.43 L632.36 205.15 L632.49 203.62 L632.61 204.95 L632.73 202.31 L632.85 205.44 L632.97 206.27 L633.10 206.01 L633.22 202.13 L633.34 211.18 L633.46 201.24 L633.58 206.05 L633.71 201.25 L633.83 206.27 L633.95 204.33 L634.07 205.17 L634.20 201.75 L634.32 206.33 L634.44 201.42 L634.56 206.04 L634.68 201.93 L634.81 206.68 L634.93 202.67 L635.05 206.72 L635.17 201.21 L635.29 207.15 L635.42 201.95 L635.54 206.31 L635.66 203.92 L635.78 205.83 L635.90 204.30 L636.03 205.27 L636.15 202.74 L636.27 209.89 L636.39 202.04 L636.52 206.43 L636.64 203.76 L636.76 204.90 L636.88 205.51 L637.00 206.13 L637.13 202.32 L637.25 206.54 L637.37 201.95 L637.49 206.76 L637.61 205.13 L637.74 205.27 L637.86 201.45 L637.98 205.55 L638.10 201.26 L638.23 204.86 L638.35 202.71 L638.47 204.94 L638.59 201.43 L638.71 207.13 L638.84 201.04 L638.96 206.49 L639.08 202.49 L639.20 204.87 L639.32 207.23 L639.45 206.30 L639.57 202.01 L639.69 205.78 L639.81 202.23 L639.93 205.08 L640.06 203.00 L640.18 206.32 L640.30 201.62 L640.42 206.08 L640.55 201.02 L640.67 206.45 L640.79 200.97 L640.91 206.25 L641.03 202.11 L641.16 206.50 L641.28 201.21 L641.40 209.78 L641.52 202.15 L641.64 206.66 L641.77 201.31 L641.89 205.86 L642.01 202.77 L642.13 205.03 L642.25 201.52 L642.38 210.70 L642.50 203.63 L642.62 206.19 L642.74 202.74 L642.87 205.70 L642.99 202.61 L643.11 208.01 L643.23 202.31 L643.35 205.15 L643.48 202.92 L643.60 206.62 L643.72 202.13 L643.84 205.37 L643.96 201.45 L644.09 205.71 L644.21 201.12 L644.33 205.51 L644.45 202.33 L644.57 206.75 L644.70 202.35 L644.82 205.46 L644.94 202.92 L645.06 206.30 L645.19 202.91 L645.31 205.94 L645.43 202.80 L645.55 205.28 L645.67 202.32 L645.80 206.51 L645.92 201.40 L646.04 209.58 L646.16 205.35 L646.28 204.86 L646.41 201.69 L646.53 205.88 L646.65 205.82 L646.77 206.45 L646.89 202.92 L647.02 205.08 L647.14 202.26 L647.26 204.81 L647.38 202.52 L647.51 206.25 L647.63 202.19 L647.75 204.99 L647.87 204.72 L647.99 205.30 L648.12 203.13 L648.24 207.59 L648.36 201.51 L648.48 206.57 L648.60 202.87 L648.73 206.47 L648.85 202.03 L648.97 205.92 L649.09 203.18 L649.22 210.12 L649.34 202.38 L649.46 205.16 L649.58 201.66 L649.70 206.39 L649.83 204.05 L649.95 205.36 L650.07 202.42 L650.19 205.15 L650.31 201.16 L650.44 206.38 L650.56 202.60 L650.68 210.13 L650.80 204.21 L650.92 209.30 L651.05 201.46 L651.17 205.91 L651.29 206.49 L651.41 206.32 L651.54 202.27 L651.66 205.52 L651.78 201.38 L651.90 205.43 L652.02 201.29 L652.15 205.20 L652.27 202.42 L652.39 205.16 L652.51 201.61 L652.63 206.66 L652.76 204.42 L652.88 206.46 L653.00 202.75 L653.12 209.62 L653.24 202.03 L653.37 205.32 L653.49 204.18 L653.61 205.98 L653.73 201.48 L653.86 206.32 L653.98 201.94 L654.10 205.21 L654.22 201.87 L654.34 204.87 L654.47 201.18 L654.59 205.48 L654.71 201.04 L654.83 208.02 L654.95 202.22 L655.08 206.63 L655.20 202.53 L655.32 206.60 L655.44 201.16 L655.56 206.67 L655.69 204.30 L655.81 206.63 L655.93 202.05 L656.05 206.43 L656.18 202.52 L656.30 208.36 L656.42 205.28 L656.54 205.27 L656.66 202.80 L656.79 204.83 L656.91 201.55 L657.03 205.32 L657.15 201.23 L657.27 209.20 L657.40 201.65 L657.52 206.25 L657.64 202.98 L657.76 205.03 L657.88 201.32 L658.01 206.08 L658.13 201.82 L658.25 205.02 L658.37 200.99 L658.50 205.54 L658.62 202.90 L658.74 205.05 L658.86 201.51 L658.98 206.01 L659.11 203.95 L659.23 204.92 L659.35 202.26 L659.47 205.23 L659.59 202.83 L659.72 204.76 L659.84 202.50 L659.96 206.26 L660.08 201.74 L660.21 206.50 L660.33 201.65 L660.45 206.07 L660.57 202.69 L660.69 206.49 L660.82 202.48 L660.94 210.03 L661.06 202.08 L661.18 206.08 L661.30 202.55 L661.43 206.33 L661.55 204.06 L661.67 206.72 L661.79 203.06 L661.91 205.26 L662.04 201.90 L662.16 205.14 L662.28 201.60 L662.40 204.95 L662.53 202.79 L662.65 206.14 L662.77 205.68 L662.89 205.08 L663.01 201.95 L663.14 204.98 L663.26 201.39 L663.38 206.03 L663.50 207.13 L663.62 206.70 L663.75 201.84 L663.87 209.21 L663.99 202.63 L664.11 206.04 L664.23 202.48 L664.36 206.32 L664.48 202.98 L664.60 206.00 L664.72 202.85 L664.85 206.16 L664.97 202.45 L665.09 205.66 L665.21 202.32 L665.33 204.83 L665.46 202.11 L665.58 206.40 L665.70 202.09" fill="none" stroke="#1f40fb" stroke-width="0.9"/>
<path d="M556.20 245.45 L555.80 200.70 L555.92 203.82 L556.04 200.58 L556.17 203.51 L556.29 198.89 L556.41 202.52 L556.53 200.17 L556.65 201.58 L556.78 200.11 L556.90 201.80 L557.02 199.96 L557.14 201.47 L557.27 199.00 L557.39 201.17 L557.51 199.65 L557.63 201.19 L557.75 199.41 L557.88 201.18 L558.00 199.09 L558.12 200.89 L558.24 199.27 L558.36 200.74 L558.49 198.92 L558.61 200.99 L558.73 199.10 L558.85 200.39 L558.97 199.37 L559.10 200.66 L559.22 199.02 L559.34 200.41 L559.46 198.96 L559.59 200.31 L559.71 199.43 L559.83 200.53 L559.95 199.21 L560.07 200.17 L560.20 199.31 L560.32 200.15 L560.44 199.28 L560.56 200.39 L560.68 199.34 L560.81 199.99 L560.93 198.88 L561.05 199.96 L561.17 199.10 L561.29 200.45 L561.42 198.89 L561.54 200.03 L561.66 199.23 L561.78 200.39 L561.91 199.11 L562.03 200.10 L562.15 199.41 L562.27 200.26 L562.39 199.28 L562.52 200.31 L562.64 198.96 L562.76 200.35 L562.88 199.08 L563.00 200.09 L563.13 199.02 L563.25 200.34 L563.37 198.97 L563.49 200.38 L563.62 198.95 L563.74 200.25 L563.86 199.13 L563.98 200.32 L564.10 199.11 L564.23 200.18 L564.35 199.38 L564.47 200.15 L564.59 199.37 L564.71 200.16 L564.84 198.96 L564.96 200.09 L565.08 198.93 L565.20 200.32 L565.32 198.89 L565.45 200.03 L565.57 199.38 L565.69 200.19 L565.81 199.04 L565.94 200.18 L566.06 199.04 L566.18 200.04 L566.30 199.06 L566.42 200.33 L566.55 199.32 L566.67 200.10 L566.79 198.85 L566.91 199.95 L567.03 199.25 L567.16 200.22 L567.28 199.19 L567.40 199.91 L567.52 199.07 L567.64 200.18 L567.77 199.01 L567.89 200.11 L568.01 199.21 L568.13 200.01 L568.26 199.37 L568.38 200.33 L568.50 199.05 L568.62 199.95 L568.74 199.28 L568.87 200.09 L568.99 199.22 L569.11 200.23 L569.23 199.37 L569.35 200.11 L569.48 199.07 L569.60 200.31 L569.72 198.91 L569.84 199.92 L569.96 199.29 L570.09 200.40 L570.21 199.02 L570.33 200.15 L570.45 199.12 L570.58 200.21 L570.70 199.34 L570.82 200.22 L570.94 199.14 L571.06 199.90 L571.19 199.20 L571.31 200.15 L571.43 199.03 L571.55 200.20 L571.67 199.18 L571.80 199.98 L571.92 198.99 L572.04 200.21 L572.16 199.06 L572.28 200.21 L572.41 199.35 L572.53 200.12 L572.65 199.00 L572.77 200.23 L572.90 199.30 L573.02 200.33 L573.14 199.23 L573.26 200.40 L573.38 198.95 L573.51 200.38 L573.63 199.29 L573.75 200.33 L573.87 198.97 L573.99 200.38 L574.12 198.99 L574.24 200.01 L574.36 199.24 L574.48 199.91 L574.61 199.37 L574.73 200.11 L574.85 199.35 L574.97 200.36 L575.09 199.35 L575.22 200.18 L575.34 198.95 L575.46 200.00 L575.58 199.32 L575.70 200.20 L575.83 198.90 L575.95 199.93 L576.07 199.26 L576.19 200.09 L576.31 199.38 L576.44 200.39 L576.56 198.88 L576.68 200.35 L576.80 198.86 L576.93 200.02 L577.05 199.19 L577.17 200.35 L577.29 198.94 L577.41 200.31 L577.54 199.18 L577.66 200.04 L577.78 199.38 L577.90 200.22 L578.02 199.38 L578.15 200.18 L578.27 199.06 L578.39 200.27 L578.51 198.97 L578.63 199.88 L578.76 199.39 L578.88 200.03 L579.00 198.94 L579.12 200.31 L579.25 198.93 L579.37 200.22 L579.49 199.25 L579.61 200.38 L579.73 199.14 L579.86 200.04 L579.98 198.87 L580.10 200.17 L580.22 199.28 L580.34 200.10 L580.47 199.09 L580.59 199.93 L580.71 199.18 L580.83 200.23 L580.95 199.06 L581.08 199.90 L581.20 199.32 L581.32 199.91 L581.44 199.15 L581.57 200.34 L581.69 198.94 L581.81 200.20 L581.93 199.23 L582.05 200.41 L582.18 199.29 L582.30 199.98 L582.42 199.13 L582.54 200.41 L582.66 199.28 L582.79 200.19 L582.91 199.21 L583.03 200.10 L583.15 199.25 L583.27 200.19 L583.40 199.37 L583.52 199.89 L583.64 199.36 L583.76 200.08 L583.89 199.02 L584.01 200.21 L584.13 198.99 L584.25 199.92 L584.37 199.28 L584.50 199.98 L584.62 199.30 L584.74 199.87 L584.86 199.22 L584.98 200.24 L585.11 199.26 L585.23 200.27 L585.35 199.18 L585.47 200.33 L585.60 199.32 L585.72 200.15 L585.84 199.00 L585.96 199.91 L586.08 198.89 L586.21 199.90 L586.33 199.26 L586.45 200.33 L586.57 199.26 L586.69 200.10 L586.82 199.34 L586.94 200.09 L587.06 199.08 L587.18 199.90 L587.30 198.90 L587.43 199.99 L587.55 198.90 L587.67 200.26 L587.79 198.91 L587.92 199.94 L588.04 199.09 L588.16 200.02 L588.28 198.99 L588.40 200.01 L588.53 199.20 L588.65 200.36 L588.77 199.12 L588.89 200.02 L589.01 198.96 L589.14 200.05 L589.26 199.00 L589.38 200.21 L589.50 199.35 L589.62 199.90 L589.75 199.39 L589.87 200.18 L589.99 199.16 L590.11 199.97 L590.24 199.26 L590.36 200.16 L590.48 199.32 L590.60 200.19 L590.72 199.37 L590.85 200.15 L590.97 198.91 L591.09 200.00 L591.21 198.93 L591.33 200.04 L591.46 198.88 L591.58 199.87 L591.70 199.14 L591.82 200.01 L591.94 198.92 L592.07 200.06 L592.19 199.05 L592.31 200.28 L592.43 199.29 L592.56 200.39 L592.68 199.11 L592.80 200.37 L592.92 199.31 L593.04 199.92 L593.17 198.87 L593.29 200.16 L593.41 199.10 L593.53 200.02 L593.65 199.25 L593.78 200.23 L593.90 199.36 L594.02 200.31 L594.14 198.92 L594.26 199.97 L594.39 198.91 L594.51 200.31 L594.63 199.12 L594.75 200.23 L594.88 198.94 L595.00 199.90 L595.12 199.11 L595.24 199.98 L595.36 198.98 L595.49 199.91 L595.61 198.97 L595.73 199.92 L595.85 199.18 L595.97 199.88 L596.10 199.27 L596.22 200.07 L596.34 199.14 L596.46 199.94 L596.59 199.09 L596.71 200.36 L596.83 199.35 L596.95 199.97 L597.07 199.22 L597.20 200.00 L597.32 198.97 L597.44 200.16 L597.56 199.30 L597.68 199.89 L597.81 199.35 L597.93 200.33 L598.05 199.22 L598.17 200.11 L598.29 199.07 L598.42 200.32 L598.54 198.92 L598.66 200.16 L598.78 199.12 L598.91 200.27 L599.03 199.05 L599.15 200.11 L599.27 199.26 L599.39 200.09 L599.52 198.94 L599.64 199.93 L599.76 199.05 L599.88 199.89 L600.00 199.39 L600.13 200.34 L600.25 199.17 L600.37 199.88 L600.49 199.06 L600.61 200.11 L600.74 199.02 L600.86 200.40 L600.98 198.96 L601.10 200.35 L601.23 199.00 L601.35 200.07 L601.47 199.16 L601.59 199.89 L601.71 199.22 L601.84 200.21 L601.96 199.37 L602.08 200.07 L602.20 199.15 L602.32 199.94 L602.45 199.21 L602.57 200.22 L602.69 199.18 L602.81 200.25 L602.93 199.38 L603.06 200.28 L603.18 199.38 L603.30 200.38 L603.42 198.85 L603.55 200.11 L603.67 198.96 L603.79 200.14 L603.91 198.91 L604.03 199.95 L604.16 199.21 L604.28 200.04 L604.40 199.36 L604.52 199.87 L604.64 199.22 L604.77 200.02 L604.89 198.85 L605.01 200.39 L605.13 199.08 L605.25 199.88 L605.38 199.02 L605.50 200.10 L605.62 198.85 L605.74 200.19 L605.87 199.34 L605.99 200.09 L606.11 199.30 L606.23 200.41 L606.35 198.96 L606.48 200.31 L606.60 199.30 L606.72 200.36 L606.84 199.36 L606.96 200.27 L607.09 199.33 L607.21 200.13 L607.33 199.02 L607.45 199.88 L607.58 199.07 L607.70 200.03 L607.82 198.88 L607.94 199.96 L608.06 199.39 L608.19 200.35 L608.31 199.26 L608.43 200.26 L608.55 198.93 L608.67 200.21 L608.80 199.21 L608.92 199.89 L609.04 199.39 L609.16 199.87 L609.28 199.19 L609.41 200.06 L609.53 198.94 L609.65 200.02 L609.77 199.15 L609.90 200.22 L610.02 199.34 L610.14 200.27 L610.26 198.93 L610.38 200.33 L610.51 198.93 L610.63 200.09 L610.75 199.29 L610.87 200.33 L610.99 199.12 L611.12 200.10 L611.24 199.15 L611.36 200.19 L611.48 199.15 L611.60 200.40 L611.73 198.88 L611.85 200.18 L611.97 198.98 L612.09 200.00 L612.22 198.98 L612.34 199.96 L612.46 198.98 L612.58 200.36 L612.70 199.11 L612.83 200.20 L612.95 199.03 L613.07 199.99 L613.19 198.97 L613.31 200.05 L613.44 199.30 L613.56 200.17 L613.68 199.12 L613.80 199.91 L613.92 199.18 L614.05 200.31 L614.17 198.89 L614.29 200.37 L614.41 199.03 L614.54 200.36 L614.66 199.20 L614.78 200.18 L614.90 199.02 L615.02 200.13 L615.15 199.36 L615.27 200.28 L615.39 198.93 L615.51 200.25 L615.63 199.03 L615.76 199.91 L615.88 199.23 L616.00 200.18 L616.12 198.94 L616.25 200.39 L616.37 198.91 L616.49 199.95 L616.61 199.20 L616.73 200.33 L616.86 199.19 L616.98 200.38 L617.10 199.13 L617.22 200.23 L617.34 198.90 L617.47 200.01 L617.59 199.24 L617.71 200.13 L617.83 198.94 L617.95 200.05 L618.08 199.08 L618.20 200.05 L618.32 198.90 L618.44 199.92 L618.57 198.85 L618.69 200.29 L618.81 199.07 L618.93 200.30 L619.05 198.90 L619.18 200.04 L619.30 199.39 L619.42 200.23 L619.54 198.99 L619.66 200.05 L619.79 198.97 L619.91 200.19 L620.03 199.22 L620.15 200.18 L620.27 198.93 L620.40 200.37 L620.52 199.14 L620.64 199.87 L620.76 199.35 L620.89 200.36 L621.01 199.12 L621.13 200.15 L621.25 198.95 L621.37 200.05 L621.50 199.12 L621.62 199.97 L621.74 199.01 L621.86 199.90 L621.98 199.29 L622.11 200.15 L622.23 198.92 L622.35 200.15 L622.47 198.92 L622.59 200.04 L622.72 199.23 L622.84 200.10 L622.96 199.38 L623.08 200.39 L623.21 199.24 L623.33 199.97 L623.45 198.91 L623.57 200.24 L623.69 198.88 L623.82 200.09 L623.94 199.24 L624.06 200.22 L624.18 199.23 L624.30 200.21 L624.43 199.24 L624.55 200.26 L624.67 199.38 L624.79 200.17 L624.91 198.85 L625.04 200.36 L625.16 199.25 L625.28 199.94 L625.40 199.20 L625.53 200.33 L625.65 199.33 L625.77 200.02 L625.89 198.91 L626.01 200.20 L626.14 199.22 L626.26 200.41 L626.38 198.87 L626.50 200.22 L626.62 199.33 L626.75 199.87 L626.87 199.02 L626.99 199.92 L627.11 199.28 L627.24 199.94 L627.36 199.17 L627.48 199.88 L627.60 199.20 L627.72 199.89 L627.85 199.16 L627.97 200.31 L628.09 199.13 L628.21 200.15 L628.33 199.03 L628.46 200.21 L628.58 199.13 L628.70 200.09 L628.82 198.97 L628.94 200.26 L629.07 199.12 L629.19 200.14 L629.31 199.08 L629.43 200.05 L629.56 198.95 L629.68 200.12 L629.80 199.00 L629.92 199.99 L630.04 199.23 L630.17 199.99 L630.29 199.13 L630.41 200.28 L630.53 199.35 L630.65 200.13 L630.78 199.05 L630.90 200.25 L631.02 199.07 L631.14 200.02 L631.26 199.30 L631.39 200.15 L631.51 199.25 L631.63 200.30 L631.75 199.10 L631.88 200.22 L632.00 199.02 L632.12 200.22 L632.24 199.26 L632.36 200.01 L632.49 198.96 L632.61 200.28 L632.73 199.28 L632.85 200.05 L632.97 199.22 L633.10 200.06 L633.22 199.23 L633.34 200.26 L633.46 198.88 L633.58 200.22 L633.71 198.87 L633.83 199.89 L633.95 199.13 L634.07 200.05 L634.20 199.38 L634.32 199.97 L634.44 198.97 L634.56 200.23 L634.68 198.91 L634.81 199.98 L634.93 199.25 L635.05 200.15 L635.17 199.05 L635.29 200.27 L635.42 199.11 L635.54 200.02 L635.66 199.34 L635.78 199.95 L635.90 199.32 L636.03 200.17 L636.15 199.08 L636.27 200.24 L636.39 199.38 L636.52 200.31 L636.64 198.93 L636.76 200.26 L636.88 199.35 L637.00 199.95 L637.13 199.03 L637.25 199.95 L637.37 199.34 L637.49 200.18 L637.61 198.95 L637.74 199.99 L637.86 199.05 L637.98 200.35 L638.10 199.34 L638.23 200.17 L638.35 199.07 L638.47 200.09 L638.59 198.99 L638.71 200.40 L638.84 199.06 L638.96 200.21 L639.08 198.85 L639.20 200.21 L639.32 199.26 L639.45 200.23 L639.57 199.22 L639.69 200.07 L639.81 198.95 L639.93 200.40 L640.06 199.22 L640.18 200.08 L640.30 199.01 L640.42 200.30 L640.55 199.32 L640.67 199.91 L640.79 198.98 L640.91 200.09 L641.03 199.16 L641.16 200.24 L641.28 198.87 L641.40 200.23 L641.52 199.20 L641.64 200.08 L641.77 199.13 L641.89 200.35 L642.01 198.96 L642.13 200.24 L642.25 199.08 L642.38 200.21 L642.50 199.34 L642.62 200.35 L642.74 199.39 L642.87 200.28 L642.99 199.32 L643.11 200.28 L643.23 199.17 L643.35 200.21 L643.48 198.87 L643.60 199.98 L643.72 199.29 L643.84 200.27 L643.96 199.27 L644.09 200.15 L644.21 199.39 L644.33 200.38 L644.45 199.06 L644.57 200.29 L644.70 199.19 L644.82 199.99 L644.94 199.31 L645.06 200.11 L645.19 199.06 L645.31 199.97 L645.43 198.90 L645.55 200.27 L645.67 199.26 L645.80 200.17 L645.92 199.39 L646.04 200.36 L646.16 199.10 L646.28 200.30 L646.41 198.85 L646.53 200.36 L646.65 198.90 L646.77 200.21 L646.89 199.08 L647.02 200.13 L647.14 199.01 L647.26 200.03 L647.38 199.13 L647.51 199.88 L647.63 198.94 L647.75 200.13 L647.87 199.12 L647.99 200.21 L648.12 199.32 L648.24 200.30 L648.36 199.33 L648.48 200.22 L648.60 199.03 L648.73 200.08 L648.85 199.16 L648.97 200.26 L649.09 198.89 L649.22 199.89 L649.34 199.05 L649.46 200.35 L649.58 199.21 L649.70 200.12 L649.83 199.03 L649.95 200.23 L650.07 199.31 L650.19 200.23 L650.31 199.08 L650.44 199.89 L650.56 199.05 L650.68 200.19 L650.80 198.94 L650.92 200.05 L651.05 199.21 L651.17 200.17 L651.29 199.07 L651.41 200.29 L651.54 199.28 L651.66 200.16 L651.78 199.30 L651.90 200.21 L652.02 199.25 L652.15 200.40 L652.27 198.97 L652.39 199.89 L652.51 199.22 L652.63 200.04 L652.76 199.12 L652.88 200.15 L653.00 198.96 L653.12 200.32 L653.24 199.20 L653.37 200.03 L653.49 198.99 L653.61 200.06 L653.73 198.92 L653.86 200.08 L653.98 198.94 L654.10 200.13 L654.22 199.02 L654.34 200.11 L654.47 198.92 L654.59 200.15 L654.71 199.19 L654.83 200.34 L654.95 199.02 L655.08 200.04 L655.20 199.15 L655.32 200.08 L655.44 199.27 L655.56 200.10 L655.69 198.97 L655.81 200.17 L655.93 199.30 L656.05 200.10 L656.18 199.26 L656.30 200.21 L656.42 199.09 L656.54 199.88 L656.66 199.30 L656.79 200.06 L656.91 198.91 L657.03 200.08 L657.15 198.87 L657.27 199.90 L657.40 199.38 L657.52 200.01 L657.64 198.99 L657.76 199.95 L657.88 198.94 L658.01 199.96 L658.13 199.13 L658.25 200.40 L658.37 199.34 L658.50 200.17 L658.62 199.30 L658.74 200.04 L658.86 199.14 L658.98 199.94 L659.11 198.96 L659.23 199.92 L659.35 199.03 L659.47 200.40 L659.59 199.03 L659.72 200.38 L659.84 198.89 L659.96 200.07 L660.08 198.91 L660.21 200.33 L660.33 199.01 L660.45 200.26 L660.57 199.35 L660.69 199.92 L660.82 199.32 L660.94 199.87 L661.06 199.09 L661.18 199.98 L661.30 199.00 L661.43 199.91 L661.55 199.29 L661.67 200.01 L661.79 198.97 L661.91 200.36 L662.04 199.35 L662.16 200.11 L662.28 199.18 L662.40 199.94 L662.53 198.93 L662.65 200.03 L662.77 199.10 L662.89 199.98 L663.01 199.10 L663.14 200.31 L663.26 199.37 L663.38 200.26 L663.50 199.26 L663.62 199.96 L663.75 198.98 L663.87 200.03 L663.99 199.06 L664.11 200.29 L664.23 198.97 L664.36 199.89 L664.48 199.05 L664.60 200.13 L664.72 199.12 L664.85 200.40 L664.97 199.26 L665.09 200.00 L665.21 199.33 L665.33 200.22 L665.46 198.96 L665.58 200.22 L665.70 199.25" fill="none" stroke="#000" stroke-width="0.9"/>
<line x1="613.5" y1="257.3" x2="624.8" y2="257.3" stroke="#000" stroke-width="1.3"/>
<text x="630.8" y="261.0" font-size="9.8" text-anchor="start" font-weight="normal" fill="#111" stroke="#111" stroke-width="0.14" >Training</text>
<line x1="613.5" y1="270.1" x2="624.8" y2="270.1" stroke="#b0b0b0" stroke-width="1.6"/>
<text x="630.8" y="273.4" font-size="9.8" text-anchor="start" font-weight="normal" fill="#111" stroke="#111" stroke-width="0.14" >Validation</text>
<line x1="613.5" y1="282.1" x2="624.8" y2="282.1" stroke="#1f40fb" stroke-width="1.4"/>
<text x="630.8" y="285.3" font-size="9.8" text-anchor="start" font-weight="normal" fill="#111" stroke="#111" stroke-width="0.14" >Test</text>
</svg>
</body></html>
